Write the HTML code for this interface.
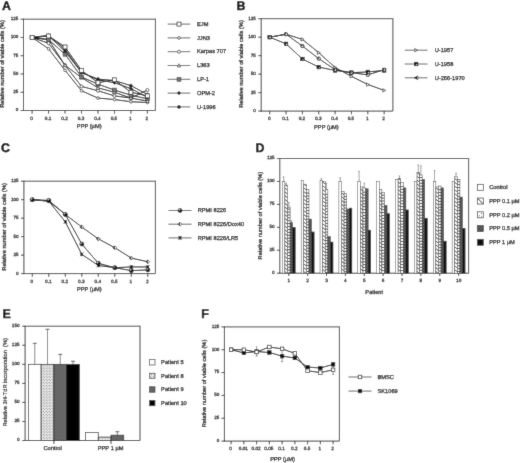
<!DOCTYPE html>
<html><head><meta charset="utf-8"><title>Figure</title>
<style>html,body{margin:0;padding:0;background:#fff;width:520px;height:463px;overflow:hidden}svg{display:block;text-rendering:geometricPrecision;will-change:transform}#w{width:520px;height:463px}</style>
</head><body><div id="w">
<svg width="520" height="463" viewBox="0 0 520 463" font-family='"Liberation Sans", sans-serif'><defs><filter id="bl" x="0" y="0" width="520" height="463" filterUnits="userSpaceOnUse"><feConvolveMatrix order="3" kernelMatrix="0.0100 0.0800 0.0100 0.0800 0.6400 0.0800 0.0100 0.0800 0.0100" divisor="1" edgeMode="duplicate"/></filter>
<pattern id="hatch" patternUnits="userSpaceOnUse" width="2.6" height="3.4"><rect width="2.6" height="3.4" fill="#fff"/><path d="M0,0.4 L2.6,3.0" stroke="#222" stroke-width="0.75"/></pattern>
<pattern id="dots" patternUnits="userSpaceOnUse" width="2.6" height="2.6"><rect width="2.6" height="2.6" fill="#fff"/><rect x="0.3" y="0.3" width="1" height="1" fill="#666"/></pattern>
<pattern id="dense" patternUnits="userSpaceOnUse" width="1.6" height="1.6"><rect width="1.6" height="1.6" fill="#8a8a8a"/><rect width="0.8" height="0.8" fill="#222"/><rect x="0.8" y="0.8" width="0.8" height="0.8" fill="#222"/></pattern>
<pattern id="edots" patternUnits="userSpaceOnUse" x="0.3" y="0.2" width="2.9" height="2.9"><rect width="2.9" height="2.9" fill="#fff"/><circle cx="0.72" cy="0.72" r="0.5" fill="#000"/><circle cx="2.17" cy="2.17" r="0.5" fill="#000"/></pattern>
</defs><g filter="url(#bl)"><rect width="520" height="463" fill="#fff"/><text font-size="12.4" text-anchor="start" font-weight="bold" fill="#0a0a0a" transform="translate(1.90 9.70) scale(1 1.001)" stroke="#0a0a0a" stroke-width="0.45">A</text>
<line x1="23.50" y1="19.20" x2="155.40" y2="19.20" stroke="#4a4a4a" stroke-width="1.0"/>
<line x1="155.40" y1="18.70" x2="155.40" y2="110.50" stroke="#4a4a4a" stroke-width="1.05"/>
<line x1="23.50" y1="18.80" x2="23.50" y2="110.90" stroke="#2a2a2a" stroke-width="0.9"/>
<line x1="23.10" y1="110.50" x2="155.40" y2="110.50" stroke="#2a2a2a" stroke-width="0.9"/>
<line x1="20.60" y1="110.50" x2="23.50" y2="110.50" stroke="#1a1a1a" stroke-width="0.85"/>
<text font-size="4.6" text-anchor="end" font-weight="normal" fill="#1a1a1a" transform="translate(18.30 111.40) scale(1 1.001)" stroke="#1a1a1a" stroke-width="0.26">0</text>
<line x1="20.60" y1="92.24" x2="23.50" y2="92.24" stroke="#1a1a1a" stroke-width="0.85"/>
<text font-size="4.6" text-anchor="end" font-weight="normal" fill="#1a1a1a" transform="translate(18.30 93.14) scale(1 1.001)" stroke="#1a1a1a" stroke-width="0.26">25</text>
<line x1="20.60" y1="73.98" x2="23.50" y2="73.98" stroke="#1a1a1a" stroke-width="0.85"/>
<text font-size="4.6" text-anchor="end" font-weight="normal" fill="#1a1a1a" transform="translate(18.30 74.88) scale(1 1.001)" stroke="#1a1a1a" stroke-width="0.26">50</text>
<line x1="20.60" y1="55.72" x2="23.50" y2="55.72" stroke="#1a1a1a" stroke-width="0.85"/>
<text font-size="4.6" text-anchor="end" font-weight="normal" fill="#1a1a1a" transform="translate(18.30 56.62) scale(1 1.001)" stroke="#1a1a1a" stroke-width="0.26">75</text>
<line x1="20.60" y1="37.46" x2="23.50" y2="37.46" stroke="#1a1a1a" stroke-width="0.85"/>
<text font-size="4.6" text-anchor="end" font-weight="normal" fill="#1a1a1a" transform="translate(18.30 38.36) scale(1 1.001)" stroke="#1a1a1a" stroke-width="0.26">100</text>
<line x1="20.60" y1="19.20" x2="23.50" y2="19.20" stroke="#1a1a1a" stroke-width="0.85"/>
<text font-size="4.6" text-anchor="end" font-weight="normal" fill="#1a1a1a" transform="translate(18.30 20.10) scale(1 1.001)" stroke="#1a1a1a" stroke-width="0.26">125</text>
<line x1="32.10" y1="110.50" x2="32.10" y2="113.70" stroke="#1a1a1a" stroke-width="0.85"/>
<text font-size="4.7" text-anchor="middle" font-weight="normal" fill="#1a1a1a" transform="translate(31.60 120.20) scale(1 1.001)" stroke="#1a1a1a" stroke-width="0.26">0</text>
<line x1="48.57" y1="110.50" x2="48.57" y2="113.70" stroke="#1a1a1a" stroke-width="0.85"/>
<text font-size="4.7" text-anchor="middle" font-weight="normal" fill="#1a1a1a" transform="translate(48.07 120.20) scale(1 1.001)" stroke="#1a1a1a" stroke-width="0.26">0.1</text>
<line x1="65.04" y1="110.50" x2="65.04" y2="113.70" stroke="#1a1a1a" stroke-width="0.85"/>
<text font-size="4.7" text-anchor="middle" font-weight="normal" fill="#1a1a1a" transform="translate(64.54 120.20) scale(1 1.001)" stroke="#1a1a1a" stroke-width="0.26">0.2</text>
<line x1="81.51" y1="110.50" x2="81.51" y2="113.70" stroke="#1a1a1a" stroke-width="0.85"/>
<text font-size="4.7" text-anchor="middle" font-weight="normal" fill="#1a1a1a" transform="translate(81.01 120.20) scale(1 1.001)" stroke="#1a1a1a" stroke-width="0.26">0.3</text>
<line x1="97.98" y1="110.50" x2="97.98" y2="113.70" stroke="#1a1a1a" stroke-width="0.85"/>
<text font-size="4.7" text-anchor="middle" font-weight="normal" fill="#1a1a1a" transform="translate(97.48 120.20) scale(1 1.001)" stroke="#1a1a1a" stroke-width="0.26">0.4</text>
<line x1="114.45" y1="110.50" x2="114.45" y2="113.70" stroke="#1a1a1a" stroke-width="0.85"/>
<text font-size="4.7" text-anchor="middle" font-weight="normal" fill="#1a1a1a" transform="translate(113.95 120.20) scale(1 1.001)" stroke="#1a1a1a" stroke-width="0.26">0.5</text>
<line x1="130.92" y1="110.50" x2="130.92" y2="113.70" stroke="#1a1a1a" stroke-width="0.85"/>
<text font-size="4.7" text-anchor="middle" font-weight="normal" fill="#1a1a1a" transform="translate(130.42 120.20) scale(1 1.001)" stroke="#1a1a1a" stroke-width="0.26">1</text>
<line x1="147.39" y1="110.50" x2="147.39" y2="113.70" stroke="#1a1a1a" stroke-width="0.85"/>
<text font-size="4.7" text-anchor="middle" font-weight="normal" fill="#1a1a1a" transform="translate(146.89 120.20) scale(1 1.001)" stroke="#1a1a1a" stroke-width="0.26">2</text>
<text font-size="5.7" text-anchor="middle" font-weight="normal" fill="#1a1a1a" transform="translate(89.20 127.80) scale(1 1.001)" stroke="#1a1a1a" stroke-width="0.26">PPP (µM)</text>
<text font-size="5.7" text-anchor="middle" font-weight="normal" fill="#1a1a1a" transform="translate(4.40 64.00) rotate(-90) scale(1 1.001)" stroke="#1a1a1a" stroke-width="0.26">Relative number of viable cells (%)</text>
<polyline points="32.10,37.46 48.57,36.00 65.04,46.96 81.51,70.33 97.98,82.74 114.45,79.82 130.92,92.24 147.39,95.89" fill="none" stroke="#0a0a0a" stroke-width="0.95" stroke-linejoin="round"/>
<polyline points="32.10,37.46 48.57,48.78 65.04,70.33 81.51,90.78 97.98,98.08 114.45,99.54 130.92,101.74 147.39,102.47" fill="none" stroke="#0a0a0a" stroke-width="0.95" stroke-linejoin="round"/>
<polyline points="32.10,37.46 48.57,43.30 65.04,65.22 81.51,86.40 97.98,90.78 114.45,95.89 130.92,98.08 147.39,90.05" fill="none" stroke="#0a0a0a" stroke-width="0.95" stroke-linejoin="round"/>
<polyline points="32.10,37.46 48.57,39.65 65.04,65.22 81.51,77.63 97.98,87.86 114.45,92.24 130.92,98.08 147.39,101.00" fill="none" stroke="#0a0a0a" stroke-width="0.95" stroke-linejoin="round"/>
<polyline points="32.10,37.46 48.57,39.65 65.04,54.26 81.51,76.90 97.98,84.21 114.45,90.05 130.92,95.16 147.39,98.81" fill="none" stroke="#0a0a0a" stroke-width="0.95" stroke-linejoin="round"/>
<polyline points="32.10,37.46 48.57,36.00 65.04,51.34 81.51,72.52 97.98,79.82 114.45,82.74 130.92,88.59 147.39,97.35" fill="none" stroke="#0a0a0a" stroke-width="0.95" stroke-linejoin="round"/>
<polyline points="32.10,37.46 48.57,35.27 65.04,49.15 81.51,72.52 97.98,79.09 114.45,80.55 130.92,85.67 147.39,94.43" fill="none" stroke="#0a0a0a" stroke-width="0.95" stroke-linejoin="round"/>
<circle cx="32.10" cy="37.46" r="1.36" fill="#fff" stroke="#222" stroke-width="0.7"/>
<circle cx="48.57" cy="48.78" r="1.36" fill="#fff" stroke="#222" stroke-width="0.7"/>
<circle cx="65.04" cy="70.33" r="1.36" fill="#fff" stroke="#222" stroke-width="0.7"/>
<circle cx="81.51" cy="90.78" r="1.36" fill="#fff" stroke="#222" stroke-width="0.7"/>
<circle cx="97.98" cy="98.08" r="1.36" fill="#fff" stroke="#222" stroke-width="0.7"/>
<circle cx="114.45" cy="99.54" r="1.36" fill="#fff" stroke="#222" stroke-width="0.7"/>
<circle cx="130.92" cy="101.74" r="1.36" fill="#fff" stroke="#222" stroke-width="0.7"/>
<circle cx="147.39" cy="102.47" r="1.36" fill="#fff" stroke="#222" stroke-width="0.7"/>
<circle cx="32.10" cy="37.46" r="1.52" fill="#fff" stroke="#222" stroke-width="0.7"/>
<circle cx="48.57" cy="43.30" r="1.52" fill="#fff" stroke="#222" stroke-width="0.7"/>
<circle cx="65.04" cy="65.22" r="1.52" fill="#fff" stroke="#222" stroke-width="0.7"/>
<circle cx="81.51" cy="86.40" r="1.52" fill="#fff" stroke="#222" stroke-width="0.7"/>
<circle cx="97.98" cy="90.78" r="1.52" fill="#fff" stroke="#222" stroke-width="0.7"/>
<circle cx="114.45" cy="95.89" r="1.52" fill="#fff" stroke="#222" stroke-width="0.7"/>
<circle cx="130.92" cy="98.08" r="1.52" fill="#fff" stroke="#222" stroke-width="0.7"/>
<circle cx="147.39" cy="90.05" r="1.52" fill="#fff" stroke="#222" stroke-width="0.7"/>
<path d="M32.10,35.73 L33.83,38.90 L30.37,38.90 Z" fill="#fff" stroke="#222" stroke-width="0.7"/>
<path d="M48.57,37.92 L50.30,41.09 L46.84,41.09 Z" fill="#fff" stroke="#222" stroke-width="0.7"/>
<path d="M65.04,63.49 L66.77,66.66 L63.31,66.66 Z" fill="#fff" stroke="#222" stroke-width="0.7"/>
<path d="M81.51,75.90 L83.24,79.07 L79.78,79.07 Z" fill="#fff" stroke="#222" stroke-width="0.7"/>
<path d="M97.98,86.13 L99.71,89.30 L96.25,89.30 Z" fill="#fff" stroke="#222" stroke-width="0.7"/>
<path d="M114.45,90.51 L116.18,93.68 L112.72,93.68 Z" fill="#fff" stroke="#222" stroke-width="0.7"/>
<path d="M130.92,96.36 L132.65,99.52 L129.19,99.52 Z" fill="#fff" stroke="#222" stroke-width="0.7"/>
<path d="M147.39,99.28 L149.12,102.44 L145.66,102.44 Z" fill="#fff" stroke="#222" stroke-width="0.7"/>
<rect x="30.18" y="35.54" width="3.84" height="3.84" fill="#777" stroke="#333" stroke-width="0.6"/>
<rect x="46.65" y="37.73" width="3.84" height="3.84" fill="#777" stroke="#333" stroke-width="0.6"/>
<rect x="63.12" y="52.34" width="3.84" height="3.84" fill="#777" stroke="#333" stroke-width="0.6"/>
<rect x="79.59" y="74.98" width="3.84" height="3.84" fill="#777" stroke="#333" stroke-width="0.6"/>
<rect x="96.06" y="82.29" width="3.84" height="3.84" fill="#777" stroke="#333" stroke-width="0.6"/>
<rect x="112.53" y="88.13" width="3.84" height="3.84" fill="#777" stroke="#333" stroke-width="0.6"/>
<rect x="129.00" y="93.24" width="3.84" height="3.84" fill="#777" stroke="#333" stroke-width="0.6"/>
<rect x="145.47" y="96.89" width="3.84" height="3.84" fill="#777" stroke="#333" stroke-width="0.6"/>
<path d="M32.10,35.73 L33.83,37.46 L32.10,39.19 L30.37,37.46 Z" fill="#222" stroke="#222" stroke-width="0.6"/>
<path d="M48.57,34.27 L50.30,36.00 L48.57,37.73 L46.84,36.00 Z" fill="#222" stroke="#222" stroke-width="0.6"/>
<path d="M65.04,49.61 L66.77,51.34 L65.04,53.07 L63.31,51.34 Z" fill="#222" stroke="#222" stroke-width="0.6"/>
<path d="M81.51,70.79 L83.24,72.52 L81.51,74.25 L79.78,72.52 Z" fill="#222" stroke="#222" stroke-width="0.6"/>
<path d="M97.98,78.10 L99.71,79.82 L97.98,81.55 L96.25,79.82 Z" fill="#222" stroke="#222" stroke-width="0.6"/>
<path d="M114.45,81.02 L116.18,82.74 L114.45,84.47 L112.72,82.74 Z" fill="#222" stroke="#222" stroke-width="0.6"/>
<path d="M130.92,86.86 L132.65,88.59 L130.92,90.32 L129.19,88.59 Z" fill="#222" stroke="#222" stroke-width="0.6"/>
<path d="M147.39,95.62 L149.12,97.35 L147.39,99.08 L145.66,97.35 Z" fill="#222" stroke="#222" stroke-width="0.6"/>
<circle cx="32.10" cy="37.46" r="1.52" fill="#222" stroke="#222" stroke-width="0.6"/>
<circle cx="48.57" cy="35.27" r="1.52" fill="#222" stroke="#222" stroke-width="0.6"/>
<circle cx="65.04" cy="49.15" r="1.52" fill="#222" stroke="#222" stroke-width="0.6"/>
<circle cx="81.51" cy="72.52" r="1.52" fill="#222" stroke="#222" stroke-width="0.6"/>
<circle cx="97.98" cy="79.09" r="1.52" fill="#222" stroke="#222" stroke-width="0.6"/>
<circle cx="114.45" cy="80.55" r="1.52" fill="#222" stroke="#222" stroke-width="0.6"/>
<circle cx="130.92" cy="85.67" r="1.52" fill="#222" stroke="#222" stroke-width="0.6"/>
<circle cx="147.39" cy="94.43" r="1.52" fill="#222" stroke="#222" stroke-width="0.6"/>
<rect x="30.10" y="35.46" width="4.00" height="4.00" fill="#fff" stroke="#222" stroke-width="0.7"/>
<rect x="46.57" y="34.00" width="4.00" height="4.00" fill="#fff" stroke="#222" stroke-width="0.7"/>
<rect x="63.04" y="44.96" width="4.00" height="4.00" fill="#fff" stroke="#222" stroke-width="0.7"/>
<rect x="79.51" y="68.33" width="4.00" height="4.00" fill="#fff" stroke="#222" stroke-width="0.7"/>
<rect x="95.98" y="80.74" width="4.00" height="4.00" fill="#fff" stroke="#222" stroke-width="0.7"/>
<rect x="112.45" y="77.82" width="4.00" height="4.00" fill="#fff" stroke="#222" stroke-width="0.7"/>
<rect x="128.92" y="90.24" width="4.00" height="4.00" fill="#fff" stroke="#222" stroke-width="0.7"/>
<rect x="145.39" y="93.89" width="4.00" height="4.00" fill="#fff" stroke="#222" stroke-width="0.7"/>
<line x1="167.70" y1="24.10" x2="190.30" y2="24.10" stroke="#444" stroke-width="0.8"/>
<rect x="177.00" y="22.10" width="4.00" height="4.00" fill="#fff" stroke="#222" stroke-width="0.7"/>
<text font-size="5.7" text-anchor="start" font-weight="normal" fill="#1a1a1a" transform="translate(197.00 25.80) scale(1 1.001)" stroke="#1a1a1a" stroke-width="0.26">EJM</text>
<line x1="167.70" y1="37.90" x2="190.30" y2="37.90" stroke="#444" stroke-width="0.8"/>
<circle cx="179.00" cy="37.90" r="1.36" fill="#fff" stroke="#222" stroke-width="0.7"/>
<text font-size="5.7" text-anchor="start" font-weight="normal" fill="#1a1a1a" transform="translate(197.00 39.60) scale(1 1.001)" stroke="#1a1a1a" stroke-width="0.26">JJN3</text>
<line x1="167.70" y1="51.70" x2="190.30" y2="51.70" stroke="#444" stroke-width="0.8"/>
<circle cx="179.00" cy="51.70" r="1.52" fill="#fff" stroke="#222" stroke-width="0.7"/>
<text font-size="5.7" text-anchor="start" font-weight="normal" fill="#1a1a1a" transform="translate(197.00 53.40) scale(1 1.001)" stroke="#1a1a1a" stroke-width="0.26">Karpas 707</text>
<line x1="167.70" y1="65.50" x2="190.30" y2="65.50" stroke="#444" stroke-width="0.8"/>
<path d="M179.00,63.77 L180.73,66.94 L177.27,66.94 Z" fill="#fff" stroke="#222" stroke-width="0.7"/>
<text font-size="5.7" text-anchor="start" font-weight="normal" fill="#1a1a1a" transform="translate(197.00 67.20) scale(1 1.001)" stroke="#1a1a1a" stroke-width="0.26">L363</text>
<line x1="167.70" y1="79.30" x2="190.30" y2="79.30" stroke="#444" stroke-width="0.8"/>
<rect x="177.08" y="77.38" width="3.84" height="3.84" fill="#777" stroke="#333" stroke-width="0.6"/>
<text font-size="5.7" text-anchor="start" font-weight="normal" fill="#1a1a1a" transform="translate(197.00 81.00) scale(1 1.001)" stroke="#1a1a1a" stroke-width="0.26">LP-1</text>
<line x1="167.70" y1="93.10" x2="190.30" y2="93.10" stroke="#444" stroke-width="0.8"/>
<path d="M179.00,91.37 L180.73,93.10 L179.00,94.83 L177.27,93.10 Z" fill="#222" stroke="#222" stroke-width="0.6"/>
<text font-size="5.7" text-anchor="start" font-weight="normal" fill="#1a1a1a" transform="translate(197.00 94.80) scale(1 1.001)" stroke="#1a1a1a" stroke-width="0.26">OPM-2</text>
<line x1="167.70" y1="106.90" x2="190.30" y2="106.90" stroke="#444" stroke-width="0.8"/>
<circle cx="179.00" cy="106.90" r="1.52" fill="#222" stroke="#222" stroke-width="0.6"/>
<text font-size="5.7" text-anchor="start" font-weight="normal" fill="#1a1a1a" transform="translate(197.00 108.60) scale(1 1.001)" stroke="#1a1a1a" stroke-width="0.26">U-1996</text>
<text font-size="12.4" text-anchor="start" font-weight="bold" fill="#0a0a0a" transform="translate(236.50 10.10) scale(1 1.001)" stroke="#0a0a0a" stroke-width="0.45">B</text>
<line x1="261.20" y1="18.70" x2="392.90" y2="18.70" stroke="#4a4a4a" stroke-width="1.0"/>
<line x1="392.90" y1="18.20" x2="392.90" y2="111.10" stroke="#4a4a4a" stroke-width="1.05"/>
<line x1="261.20" y1="18.30" x2="261.20" y2="111.50" stroke="#2a2a2a" stroke-width="0.9"/>
<line x1="260.80" y1="111.10" x2="392.90" y2="111.10" stroke="#2a2a2a" stroke-width="0.9"/>
<line x1="258.30" y1="111.10" x2="261.20" y2="111.10" stroke="#1a1a1a" stroke-width="0.85"/>
<text font-size="4.6" text-anchor="end" font-weight="normal" fill="#1a1a1a" transform="translate(255.80 112.00) scale(1 1.001)" stroke="#1a1a1a" stroke-width="0.26">0</text>
<line x1="258.30" y1="92.62" x2="261.20" y2="92.62" stroke="#1a1a1a" stroke-width="0.85"/>
<text font-size="4.6" text-anchor="end" font-weight="normal" fill="#1a1a1a" transform="translate(255.80 93.52) scale(1 1.001)" stroke="#1a1a1a" stroke-width="0.26">25</text>
<line x1="258.30" y1="74.14" x2="261.20" y2="74.14" stroke="#1a1a1a" stroke-width="0.85"/>
<text font-size="4.6" text-anchor="end" font-weight="normal" fill="#1a1a1a" transform="translate(255.80 75.04) scale(1 1.001)" stroke="#1a1a1a" stroke-width="0.26">50</text>
<line x1="258.30" y1="55.66" x2="261.20" y2="55.66" stroke="#1a1a1a" stroke-width="0.85"/>
<text font-size="4.6" text-anchor="end" font-weight="normal" fill="#1a1a1a" transform="translate(255.80 56.56) scale(1 1.001)" stroke="#1a1a1a" stroke-width="0.26">75</text>
<line x1="258.30" y1="37.18" x2="261.20" y2="37.18" stroke="#1a1a1a" stroke-width="0.85"/>
<text font-size="4.6" text-anchor="end" font-weight="normal" fill="#1a1a1a" transform="translate(255.80 38.08) scale(1 1.001)" stroke="#1a1a1a" stroke-width="0.26">100</text>
<line x1="258.30" y1="18.70" x2="261.20" y2="18.70" stroke="#1a1a1a" stroke-width="0.85"/>
<text font-size="4.6" text-anchor="end" font-weight="normal" fill="#1a1a1a" transform="translate(255.80 19.60) scale(1 1.001)" stroke="#1a1a1a" stroke-width="0.26">125</text>
<line x1="269.70" y1="111.10" x2="269.70" y2="114.30" stroke="#1a1a1a" stroke-width="0.85"/>
<text font-size="4.7" text-anchor="middle" font-weight="normal" fill="#1a1a1a" transform="translate(269.20 119.60) scale(1 1.001)" stroke="#1a1a1a" stroke-width="0.26">0</text>
<line x1="286.05" y1="111.10" x2="286.05" y2="114.30" stroke="#1a1a1a" stroke-width="0.85"/>
<text font-size="4.7" text-anchor="middle" font-weight="normal" fill="#1a1a1a" transform="translate(285.55 119.60) scale(1 1.001)" stroke="#1a1a1a" stroke-width="0.26">0.1</text>
<line x1="302.40" y1="111.10" x2="302.40" y2="114.30" stroke="#1a1a1a" stroke-width="0.85"/>
<text font-size="4.7" text-anchor="middle" font-weight="normal" fill="#1a1a1a" transform="translate(301.90 119.60) scale(1 1.001)" stroke="#1a1a1a" stroke-width="0.26">0.2</text>
<line x1="318.75" y1="111.10" x2="318.75" y2="114.30" stroke="#1a1a1a" stroke-width="0.85"/>
<text font-size="4.7" text-anchor="middle" font-weight="normal" fill="#1a1a1a" transform="translate(318.25 119.60) scale(1 1.001)" stroke="#1a1a1a" stroke-width="0.26">0.3</text>
<line x1="335.10" y1="111.10" x2="335.10" y2="114.30" stroke="#1a1a1a" stroke-width="0.85"/>
<text font-size="4.7" text-anchor="middle" font-weight="normal" fill="#1a1a1a" transform="translate(334.60 119.60) scale(1 1.001)" stroke="#1a1a1a" stroke-width="0.26">0.4</text>
<line x1="351.45" y1="111.10" x2="351.45" y2="114.30" stroke="#1a1a1a" stroke-width="0.85"/>
<text font-size="4.7" text-anchor="middle" font-weight="normal" fill="#1a1a1a" transform="translate(350.95 119.60) scale(1 1.001)" stroke="#1a1a1a" stroke-width="0.26">0.5</text>
<line x1="367.80" y1="111.10" x2="367.80" y2="114.30" stroke="#1a1a1a" stroke-width="0.85"/>
<text font-size="4.7" text-anchor="middle" font-weight="normal" fill="#1a1a1a" transform="translate(367.30 119.60) scale(1 1.001)" stroke="#1a1a1a" stroke-width="0.26">1</text>
<line x1="384.15" y1="111.10" x2="384.15" y2="114.30" stroke="#1a1a1a" stroke-width="0.85"/>
<text font-size="4.7" text-anchor="middle" font-weight="normal" fill="#1a1a1a" transform="translate(383.65 119.60) scale(1 1.001)" stroke="#1a1a1a" stroke-width="0.26">2</text>
<text font-size="5.7" text-anchor="middle" font-weight="normal" fill="#1a1a1a" transform="translate(326.40 128.60) scale(1 1.001)" stroke="#1a1a1a" stroke-width="0.26">PPP (µM)</text>
<text font-size="5.7" text-anchor="middle" font-weight="normal" fill="#1a1a1a" transform="translate(243.00 64.00) rotate(-90) scale(1 1.001)" stroke="#1a1a1a" stroke-width="0.26">Relative number of viable cells (%)</text>
<polyline points="269.70,37.18 286.05,34.22 302.40,39.40 318.75,52.70 335.10,67.49 351.45,76.36 367.80,84.49 384.15,90.40" fill="none" stroke="#0a0a0a" stroke-width="0.95" stroke-linejoin="round"/>
<polyline points="269.70,37.18 286.05,43.83 302.40,58.99 318.75,67.12 335.10,70.44 351.45,72.66 367.80,71.92 384.15,70.44" fill="none" stroke="#0a0a0a" stroke-width="0.95" stroke-linejoin="round"/>
<polyline points="269.70,37.18 286.05,34.22 302.40,46.05 318.75,58.62 335.10,69.70 351.45,72.66 367.80,74.88 384.15,69.70" fill="none" stroke="#0a0a0a" stroke-width="0.95" stroke-linejoin="round"/>
<path d="M271.33,37.18 L268.34,35.55 L268.34,38.81 Z" fill="#fff" stroke="#222" stroke-width="0.7"/>
<path d="M287.68,34.22 L284.69,32.59 L284.69,35.86 Z" fill="#fff" stroke="#222" stroke-width="0.7"/>
<path d="M304.03,39.40 L301.04,37.77 L301.04,41.03 Z" fill="#fff" stroke="#222" stroke-width="0.7"/>
<path d="M320.38,52.70 L317.39,51.07 L317.39,54.34 Z" fill="#fff" stroke="#222" stroke-width="0.7"/>
<path d="M336.73,67.49 L333.74,65.86 L333.74,69.12 Z" fill="#fff" stroke="#222" stroke-width="0.7"/>
<path d="M353.08,76.36 L350.09,74.73 L350.09,77.99 Z" fill="#fff" stroke="#222" stroke-width="0.7"/>
<path d="M369.43,84.49 L366.44,82.86 L366.44,86.12 Z" fill="#fff" stroke="#222" stroke-width="0.7"/>
<path d="M385.78,90.40 L382.79,88.77 L382.79,92.03 Z" fill="#fff" stroke="#222" stroke-width="0.7"/>
<rect x="267.91" y="35.39" width="3.58" height="3.58" fill="#111" stroke="#111" stroke-width="0.5"/>
<circle cx="270.33" cy="37.81" r="0.59" fill="#fff"/>
<rect x="284.26" y="42.04" width="3.58" height="3.58" fill="#111" stroke="#111" stroke-width="0.5"/>
<circle cx="286.68" cy="44.46" r="0.59" fill="#fff"/>
<rect x="300.61" y="57.19" width="3.58" height="3.58" fill="#111" stroke="#111" stroke-width="0.5"/>
<circle cx="303.03" cy="59.61" r="0.59" fill="#fff"/>
<rect x="316.96" y="65.33" width="3.58" height="3.58" fill="#111" stroke="#111" stroke-width="0.5"/>
<circle cx="319.38" cy="67.74" r="0.59" fill="#fff"/>
<rect x="333.31" y="68.65" width="3.58" height="3.58" fill="#111" stroke="#111" stroke-width="0.5"/>
<circle cx="335.73" cy="71.07" r="0.59" fill="#fff"/>
<rect x="349.66" y="70.87" width="3.58" height="3.58" fill="#111" stroke="#111" stroke-width="0.5"/>
<circle cx="352.08" cy="73.29" r="0.59" fill="#fff"/>
<rect x="366.01" y="70.13" width="3.58" height="3.58" fill="#111" stroke="#111" stroke-width="0.5"/>
<circle cx="368.43" cy="72.55" r="0.59" fill="#fff"/>
<rect x="382.36" y="68.65" width="3.58" height="3.58" fill="#111" stroke="#111" stroke-width="0.5"/>
<circle cx="384.78" cy="71.07" r="0.59" fill="#fff"/>
<circle cx="269.70" cy="37.18" r="1.60" fill="#fff" stroke="#111" stroke-width="1.0"/>
<circle cx="269.22" cy="36.70" r="0.72" fill="#111"/>
<circle cx="286.05" cy="34.22" r="1.60" fill="#fff" stroke="#111" stroke-width="1.0"/>
<circle cx="285.57" cy="33.74" r="0.72" fill="#111"/>
<circle cx="302.40" cy="46.05" r="1.60" fill="#fff" stroke="#111" stroke-width="1.0"/>
<circle cx="301.92" cy="45.57" r="0.72" fill="#111"/>
<circle cx="318.75" cy="58.62" r="1.60" fill="#fff" stroke="#111" stroke-width="1.0"/>
<circle cx="318.27" cy="58.14" r="0.72" fill="#111"/>
<circle cx="335.10" cy="69.70" r="1.60" fill="#fff" stroke="#111" stroke-width="1.0"/>
<circle cx="334.62" cy="69.22" r="0.72" fill="#111"/>
<circle cx="351.45" cy="72.66" r="1.60" fill="#fff" stroke="#111" stroke-width="1.0"/>
<circle cx="350.97" cy="72.18" r="0.72" fill="#111"/>
<circle cx="367.80" cy="74.88" r="1.60" fill="#fff" stroke="#111" stroke-width="1.0"/>
<circle cx="367.32" cy="74.40" r="0.72" fill="#111"/>
<circle cx="384.15" cy="69.70" r="1.60" fill="#fff" stroke="#111" stroke-width="1.0"/>
<circle cx="383.67" cy="69.22" r="0.72" fill="#111"/>
<line x1="404.80" y1="50.20" x2="427.50" y2="50.20" stroke="#444" stroke-width="0.8"/>
<path d="M417.78,50.20 L414.79,48.57 L414.79,51.83 Z" fill="#fff" stroke="#222" stroke-width="0.7"/>
<text font-size="5.7" text-anchor="start" font-weight="normal" fill="#1a1a1a" transform="translate(434.70 51.90) scale(1 1.001)" stroke="#1a1a1a" stroke-width="0.26">U-1957</text>
<line x1="404.80" y1="64.00" x2="427.50" y2="64.00" stroke="#444" stroke-width="0.8"/>
<rect x="414.31" y="62.16" width="3.68" height="3.68" fill="#111" stroke="#111" stroke-width="0.5"/>
<circle cx="416.79" cy="64.64" r="0.61" fill="#fff"/>
<text font-size="5.7" text-anchor="start" font-weight="normal" fill="#1a1a1a" transform="translate(434.70 65.70) scale(1 1.001)" stroke="#1a1a1a" stroke-width="0.26">U-1958</text>
<line x1="404.80" y1="77.80" x2="427.50" y2="77.80" stroke="#444" stroke-width="0.8"/>
<path d="M414.13,77.80 L417.83,75.95 L417.83,79.65 Z" fill="#fff" stroke="#111" stroke-width="0.6"/>
<path d="M414.13,77.80 L417.07,76.29 L417.07,79.31 Z" fill="#111"/>
<text font-size="5.7" text-anchor="start" font-weight="normal" fill="#1a1a1a" transform="translate(434.70 79.50) scale(1 1.001)" stroke="#1a1a1a" stroke-width="0.26">U-266-1970</text>
<text font-size="12.4" text-anchor="start" font-weight="bold" fill="#0a0a0a" transform="translate(1.05 151.80) scale(1 1.001)" stroke="#0a0a0a" stroke-width="0.45">C</text>
<line x1="23.90" y1="181.20" x2="155.40" y2="181.20" stroke="#4a4a4a" stroke-width="1.0"/>
<line x1="155.40" y1="180.70" x2="155.40" y2="273.60" stroke="#4a4a4a" stroke-width="1.05"/>
<line x1="23.90" y1="180.80" x2="23.90" y2="274.00" stroke="#2a2a2a" stroke-width="0.9"/>
<line x1="23.50" y1="273.60" x2="155.40" y2="273.60" stroke="#2a2a2a" stroke-width="0.9"/>
<line x1="21.00" y1="273.60" x2="23.90" y2="273.60" stroke="#1a1a1a" stroke-width="0.85"/>
<text font-size="4.6" text-anchor="end" font-weight="normal" fill="#1a1a1a" transform="translate(18.60 274.50) scale(1 1.001)" stroke="#1a1a1a" stroke-width="0.26">0</text>
<line x1="21.00" y1="255.12" x2="23.90" y2="255.12" stroke="#1a1a1a" stroke-width="0.85"/>
<text font-size="4.6" text-anchor="end" font-weight="normal" fill="#1a1a1a" transform="translate(18.60 256.02) scale(1 1.001)" stroke="#1a1a1a" stroke-width="0.26">25</text>
<line x1="21.00" y1="236.64" x2="23.90" y2="236.64" stroke="#1a1a1a" stroke-width="0.85"/>
<text font-size="4.6" text-anchor="end" font-weight="normal" fill="#1a1a1a" transform="translate(18.60 237.54) scale(1 1.001)" stroke="#1a1a1a" stroke-width="0.26">50</text>
<line x1="21.00" y1="218.16" x2="23.90" y2="218.16" stroke="#1a1a1a" stroke-width="0.85"/>
<text font-size="4.6" text-anchor="end" font-weight="normal" fill="#1a1a1a" transform="translate(18.60 219.06) scale(1 1.001)" stroke="#1a1a1a" stroke-width="0.26">75</text>
<line x1="21.00" y1="199.68" x2="23.90" y2="199.68" stroke="#1a1a1a" stroke-width="0.85"/>
<text font-size="4.6" text-anchor="end" font-weight="normal" fill="#1a1a1a" transform="translate(18.60 200.58) scale(1 1.001)" stroke="#1a1a1a" stroke-width="0.26">100</text>
<line x1="21.00" y1="181.20" x2="23.90" y2="181.20" stroke="#1a1a1a" stroke-width="0.85"/>
<text font-size="4.6" text-anchor="end" font-weight="normal" fill="#1a1a1a" transform="translate(18.60 182.10) scale(1 1.001)" stroke="#1a1a1a" stroke-width="0.26">125</text>
<line x1="32.30" y1="273.60" x2="32.30" y2="276.80" stroke="#1a1a1a" stroke-width="0.85"/>
<text font-size="4.7" text-anchor="middle" font-weight="normal" fill="#1a1a1a" transform="translate(31.80 282.80) scale(1 1.001)" stroke="#1a1a1a" stroke-width="0.26">0</text>
<line x1="48.80" y1="273.60" x2="48.80" y2="276.80" stroke="#1a1a1a" stroke-width="0.85"/>
<text font-size="4.7" text-anchor="middle" font-weight="normal" fill="#1a1a1a" transform="translate(48.30 282.80) scale(1 1.001)" stroke="#1a1a1a" stroke-width="0.26">0.1</text>
<line x1="65.30" y1="273.60" x2="65.30" y2="276.80" stroke="#1a1a1a" stroke-width="0.85"/>
<text font-size="4.7" text-anchor="middle" font-weight="normal" fill="#1a1a1a" transform="translate(64.80 282.80) scale(1 1.001)" stroke="#1a1a1a" stroke-width="0.26">0.2</text>
<line x1="81.80" y1="273.60" x2="81.80" y2="276.80" stroke="#1a1a1a" stroke-width="0.85"/>
<text font-size="4.7" text-anchor="middle" font-weight="normal" fill="#1a1a1a" transform="translate(81.30 282.80) scale(1 1.001)" stroke="#1a1a1a" stroke-width="0.26">0.3</text>
<line x1="98.30" y1="273.60" x2="98.30" y2="276.80" stroke="#1a1a1a" stroke-width="0.85"/>
<text font-size="4.7" text-anchor="middle" font-weight="normal" fill="#1a1a1a" transform="translate(97.80 282.80) scale(1 1.001)" stroke="#1a1a1a" stroke-width="0.26">0.4</text>
<line x1="114.80" y1="273.60" x2="114.80" y2="276.80" stroke="#1a1a1a" stroke-width="0.85"/>
<text font-size="4.7" text-anchor="middle" font-weight="normal" fill="#1a1a1a" transform="translate(114.30 282.80) scale(1 1.001)" stroke="#1a1a1a" stroke-width="0.26">0.5</text>
<line x1="131.30" y1="273.60" x2="131.30" y2="276.80" stroke="#1a1a1a" stroke-width="0.85"/>
<text font-size="4.7" text-anchor="middle" font-weight="normal" fill="#1a1a1a" transform="translate(130.80 282.80) scale(1 1.001)" stroke="#1a1a1a" stroke-width="0.26">1</text>
<line x1="147.80" y1="273.60" x2="147.80" y2="276.80" stroke="#1a1a1a" stroke-width="0.85"/>
<text font-size="4.7" text-anchor="middle" font-weight="normal" fill="#1a1a1a" transform="translate(147.30 282.80) scale(1 1.001)" stroke="#1a1a1a" stroke-width="0.26">2</text>
<text font-size="5.7" text-anchor="middle" font-weight="normal" fill="#1a1a1a" transform="translate(89.30 291.10) scale(1 1.001)" stroke="#1a1a1a" stroke-width="0.26">PPP (µM)</text>
<text font-size="5.7" text-anchor="middle" font-weight="normal" fill="#1a1a1a" transform="translate(6.30 226.90) rotate(-90) scale(1 1.001)" stroke="#1a1a1a" stroke-width="0.26">Relative number of viable cells (%)</text>
<polyline points="32.30,199.68 48.80,200.42 65.30,214.46 81.80,244.03 98.30,263.25 114.80,267.69 131.30,270.64 147.80,269.90" fill="none" stroke="#0a0a0a" stroke-width="0.95" stroke-linejoin="round"/>
<polyline points="32.30,199.68 48.80,201.16 65.30,214.46 81.80,227.03 98.30,238.86 114.80,247.73 131.30,258.08 147.80,261.77" fill="none" stroke="#0a0a0a" stroke-width="0.95" stroke-linejoin="round"/>
<polyline points="32.30,199.68 48.80,201.16 65.30,221.86 81.80,254.38 98.30,265.47 114.80,267.69 131.30,266.95 147.80,266.95" fill="none" stroke="#0a0a0a" stroke-width="0.95" stroke-linejoin="round"/>
<path d="M32.30,197.76 L34.22,199.68 L32.30,201.60 L30.38,199.68 Z" fill="#fff" stroke="#222" stroke-width="0.7"/>
<path d="M32.30,197.76 L30.38,199.68 L32.30,201.60 Z" fill="#222"/>
<path d="M48.80,199.24 L50.72,201.16 L48.80,203.08 L46.88,201.16 Z" fill="#fff" stroke="#222" stroke-width="0.7"/>
<path d="M48.80,199.24 L46.88,201.16 L48.80,203.08 Z" fill="#222"/>
<path d="M65.30,212.54 L67.22,214.46 L65.30,216.38 L63.38,214.46 Z" fill="#fff" stroke="#222" stroke-width="0.7"/>
<path d="M65.30,212.54 L63.38,214.46 L65.30,216.38 Z" fill="#222"/>
<path d="M81.80,225.11 L83.72,227.03 L81.80,228.95 L79.88,227.03 Z" fill="#fff" stroke="#222" stroke-width="0.7"/>
<path d="M81.80,225.11 L79.88,227.03 L81.80,228.95 Z" fill="#222"/>
<path d="M98.30,236.94 L100.22,238.86 L98.30,240.78 L96.38,238.86 Z" fill="#fff" stroke="#222" stroke-width="0.7"/>
<path d="M98.30,236.94 L96.38,238.86 L98.30,240.78 Z" fill="#222"/>
<path d="M114.80,245.81 L116.72,247.73 L114.80,249.65 L112.88,247.73 Z" fill="#fff" stroke="#222" stroke-width="0.7"/>
<path d="M114.80,245.81 L112.88,247.73 L114.80,249.65 Z" fill="#222"/>
<path d="M131.30,256.16 L133.22,258.08 L131.30,260.00 L129.38,258.08 Z" fill="#fff" stroke="#222" stroke-width="0.7"/>
<path d="M131.30,256.16 L129.38,258.08 L131.30,260.00 Z" fill="#222"/>
<path d="M147.80,259.85 L149.72,261.77 L147.80,263.69 L145.88,261.77 Z" fill="#fff" stroke="#222" stroke-width="0.7"/>
<path d="M147.80,259.85 L145.88,261.77 L147.80,263.69 Z" fill="#222"/>
<rect x="31.07" y="198.45" width="2.46" height="2.46" fill="#111"/>
<path d="M30.54,197.92 L34.06,201.44 M34.06,197.92 L30.54,201.44 M32.30,197.74 L32.30,201.62" stroke="#111" stroke-width="0.7"/>
<rect x="47.57" y="199.93" width="2.46" height="2.46" fill="#111"/>
<path d="M47.04,199.40 L50.56,202.92 M50.56,199.40 L47.04,202.92 M48.80,199.22 L48.80,203.09" stroke="#111" stroke-width="0.7"/>
<rect x="64.07" y="220.62" width="2.46" height="2.46" fill="#111"/>
<path d="M63.54,220.10 L67.06,223.62 M67.06,220.10 L63.54,223.62 M65.30,219.92 L65.30,223.79" stroke="#111" stroke-width="0.7"/>
<rect x="80.57" y="253.15" width="2.46" height="2.46" fill="#111"/>
<path d="M80.04,252.62 L83.56,256.14 M83.56,252.62 L80.04,256.14 M81.80,252.44 L81.80,256.32" stroke="#111" stroke-width="0.7"/>
<rect x="97.07" y="264.24" width="2.46" height="2.46" fill="#111"/>
<path d="M96.54,263.71 L100.06,267.23 M100.06,263.71 L96.54,267.23 M98.30,263.53 L98.30,267.40" stroke="#111" stroke-width="0.7"/>
<rect x="113.57" y="266.45" width="2.46" height="2.46" fill="#111"/>
<path d="M113.04,265.93 L116.56,269.45 M116.56,265.93 L113.04,269.45 M114.80,265.75 L114.80,269.62" stroke="#111" stroke-width="0.7"/>
<rect x="130.07" y="265.72" width="2.46" height="2.46" fill="#111"/>
<path d="M129.54,265.19 L133.06,268.71 M133.06,265.19 L129.54,268.71 M131.30,265.01 L131.30,268.88" stroke="#111" stroke-width="0.7"/>
<rect x="146.57" y="265.72" width="2.46" height="2.46" fill="#111"/>
<path d="M146.04,265.19 L149.56,268.71 M149.56,265.19 L146.04,268.71 M147.80,265.01 L147.80,268.88" stroke="#111" stroke-width="0.7"/>
<circle cx="32.30" cy="199.68" r="2.08" fill="#111" stroke="#111" stroke-width="0.5"/>
<path d="M30.74,199.58 A1.66,1.66 0 0 1 32.40,198.12 L32.09,199.47 Z" fill="#fff"/>
<circle cx="48.80" cy="200.42" r="2.08" fill="#111" stroke="#111" stroke-width="0.5"/>
<path d="M47.24,200.32 A1.66,1.66 0 0 1 48.90,198.86 L48.59,200.21 Z" fill="#fff"/>
<circle cx="65.30" cy="214.46" r="2.08" fill="#111" stroke="#111" stroke-width="0.5"/>
<path d="M63.74,214.36 A1.66,1.66 0 0 1 65.40,212.90 L65.09,214.26 Z" fill="#fff"/>
<circle cx="81.80" cy="244.03" r="2.08" fill="#111" stroke="#111" stroke-width="0.5"/>
<path d="M80.24,243.93 A1.66,1.66 0 0 1 81.90,242.47 L81.59,243.82 Z" fill="#fff"/>
<circle cx="98.30" cy="263.25" r="2.08" fill="#111" stroke="#111" stroke-width="0.5"/>
<path d="M96.74,263.15 A1.66,1.66 0 0 1 98.40,261.69 L98.09,263.04 Z" fill="#fff"/>
<circle cx="114.80" cy="267.69" r="2.08" fill="#111" stroke="#111" stroke-width="0.5"/>
<path d="M113.24,267.58 A1.66,1.66 0 0 1 114.90,266.13 L114.59,267.48 Z" fill="#fff"/>
<circle cx="131.30" cy="270.64" r="2.08" fill="#111" stroke="#111" stroke-width="0.5"/>
<path d="M129.74,270.54 A1.66,1.66 0 0 1 131.40,269.08 L131.09,270.44 Z" fill="#fff"/>
<circle cx="147.80" cy="269.90" r="2.08" fill="#111" stroke="#111" stroke-width="0.5"/>
<path d="M146.24,269.80 A1.66,1.66 0 0 1 147.90,268.34 L147.59,269.70 Z" fill="#fff"/>
<line x1="168.50" y1="210.50" x2="191.50" y2="210.50" stroke="#444" stroke-width="0.8"/>
<circle cx="180.00" cy="210.50" r="2.08" fill="#111" stroke="#111" stroke-width="0.5"/>
<path d="M178.44,210.40 A1.66,1.66 0 0 1 180.10,208.94 L179.79,210.29 Z" fill="#fff"/>
<text font-size="5.7" text-anchor="start" font-weight="normal" fill="#1a1a1a" transform="translate(197.70 212.20) scale(1 1.001)" stroke="#1a1a1a" stroke-width="0.26">RPMI 8226</text>
<line x1="168.50" y1="224.20" x2="191.50" y2="224.20" stroke="#444" stroke-width="0.8"/>
<path d="M180.00,222.28 L181.92,224.20 L180.00,226.12 L178.08,224.20 Z" fill="#fff" stroke="#222" stroke-width="0.7"/>
<path d="M180.00,222.28 L178.08,224.20 L180.00,226.12 Z" fill="#222"/>
<text font-size="5.7" text-anchor="start" font-weight="normal" fill="#1a1a1a" transform="translate(197.70 225.90) scale(1 1.001)" stroke="#1a1a1a" stroke-width="0.26">RPMI 8226/Dox40</text>
<line x1="168.50" y1="237.90" x2="191.50" y2="237.90" stroke="#444" stroke-width="0.8"/>
<rect x="178.77" y="236.67" width="2.46" height="2.46" fill="#111"/>
<path d="M178.24,236.14 L181.76,239.66 M181.76,236.14 L178.24,239.66 M180.00,235.96 L180.00,239.84" stroke="#111" stroke-width="0.7"/>
<text font-size="5.7" text-anchor="start" font-weight="normal" fill="#1a1a1a" transform="translate(197.70 239.60) scale(1 1.001)" stroke="#1a1a1a" stroke-width="0.26">RPMI 8226/LR5</text>
<text font-size="12.4" text-anchor="start" font-weight="bold" fill="#0a0a0a" transform="translate(255.40 152.10) scale(1 1.001)" stroke="#0a0a0a" stroke-width="0.45">D</text>
<line x1="279.80" y1="158.50" x2="468.60" y2="158.50" stroke="#4a4a4a" stroke-width="1.0"/>
<line x1="468.60" y1="158.00" x2="468.60" y2="273.20" stroke="#4a4a4a" stroke-width="1.05"/>
<line x1="279.80" y1="158.10" x2="279.80" y2="273.60" stroke="#2a2a2a" stroke-width="0.9"/>
<line x1="279.40" y1="273.20" x2="468.60" y2="273.20" stroke="#2a2a2a" stroke-width="0.9"/>
<line x1="276.90" y1="273.20" x2="279.80" y2="273.20" stroke="#1a1a1a" stroke-width="0.85"/>
<text font-size="4.6" text-anchor="end" font-weight="normal" fill="#1a1a1a" transform="translate(274.60 274.10) scale(1 1.001)" stroke="#1a1a1a" stroke-width="0.26">0</text>
<line x1="276.90" y1="250.26" x2="279.80" y2="250.26" stroke="#1a1a1a" stroke-width="0.85"/>
<text font-size="4.6" text-anchor="end" font-weight="normal" fill="#1a1a1a" transform="translate(274.60 251.16) scale(1 1.001)" stroke="#1a1a1a" stroke-width="0.26">25</text>
<line x1="276.90" y1="227.32" x2="279.80" y2="227.32" stroke="#1a1a1a" stroke-width="0.85"/>
<text font-size="4.6" text-anchor="end" font-weight="normal" fill="#1a1a1a" transform="translate(274.60 228.22) scale(1 1.001)" stroke="#1a1a1a" stroke-width="0.26">50</text>
<line x1="276.90" y1="204.38" x2="279.80" y2="204.38" stroke="#1a1a1a" stroke-width="0.85"/>
<text font-size="4.6" text-anchor="end" font-weight="normal" fill="#1a1a1a" transform="translate(274.60 205.28) scale(1 1.001)" stroke="#1a1a1a" stroke-width="0.26">75</text>
<line x1="276.90" y1="181.44" x2="279.80" y2="181.44" stroke="#1a1a1a" stroke-width="0.85"/>
<text font-size="4.6" text-anchor="end" font-weight="normal" fill="#1a1a1a" transform="translate(274.60 182.34) scale(1 1.001)" stroke="#1a1a1a" stroke-width="0.26">100</text>
<line x1="276.90" y1="158.50" x2="279.80" y2="158.50" stroke="#1a1a1a" stroke-width="0.85"/>
<text font-size="4.6" text-anchor="end" font-weight="normal" fill="#1a1a1a" transform="translate(274.60 159.40) scale(1 1.001)" stroke="#1a1a1a" stroke-width="0.26">125</text>
<text font-size="5.7" text-anchor="middle" font-weight="normal" fill="#1a1a1a" transform="translate(261.80 215.60) rotate(-90) scale(1 1.001)" stroke="#1a1a1a" stroke-width="0.26">Relative number of viable cells (%)</text>
<text font-size="5.7" text-anchor="middle" font-weight="normal" fill="#1a1a1a" transform="translate(374.20 293.50) scale(1 1.001)" stroke="#1a1a1a" stroke-width="0.26">Patient</text>
<rect x="282.30" y="181.44" width="2.60" height="91.76" fill="#fff" stroke="#333" stroke-width="0.45"/>
<rect x="284.90" y="185.11" width="2.60" height="88.09" fill="#fff" stroke="none" stroke-width="0"/>
<clipPath id="c0_1"><rect x="284.90" y="185.11" width="2.60" height="88.09"/></clipPath><g clip-path="url(#c0_1)">
<line x1="284.70" y1="184.11" x2="287.70" y2="186.58" stroke="#111" stroke-width="0.8"/>
<line x1="284.70" y1="187.91" x2="287.70" y2="190.38" stroke="#111" stroke-width="0.8"/>
<line x1="284.70" y1="191.71" x2="287.70" y2="194.18" stroke="#111" stroke-width="0.8"/>
<line x1="284.70" y1="195.51" x2="287.70" y2="197.98" stroke="#111" stroke-width="0.8"/>
<line x1="284.70" y1="199.31" x2="287.70" y2="201.78" stroke="#111" stroke-width="0.8"/>
<line x1="284.70" y1="203.11" x2="287.70" y2="205.58" stroke="#111" stroke-width="0.8"/>
<line x1="284.70" y1="206.91" x2="287.70" y2="209.38" stroke="#111" stroke-width="0.8"/>
<line x1="284.70" y1="210.71" x2="287.70" y2="213.18" stroke="#111" stroke-width="0.8"/>
<line x1="284.70" y1="214.51" x2="287.70" y2="216.98" stroke="#111" stroke-width="0.8"/>
<line x1="284.70" y1="218.31" x2="287.70" y2="220.78" stroke="#111" stroke-width="0.8"/>
<line x1="284.70" y1="222.11" x2="287.70" y2="224.58" stroke="#111" stroke-width="0.8"/>
<line x1="284.70" y1="225.91" x2="287.70" y2="228.38" stroke="#111" stroke-width="0.8"/>
<line x1="284.70" y1="229.71" x2="287.70" y2="232.18" stroke="#111" stroke-width="0.8"/>
<line x1="284.70" y1="233.51" x2="287.70" y2="235.98" stroke="#111" stroke-width="0.8"/>
<line x1="284.70" y1="237.31" x2="287.70" y2="239.78" stroke="#111" stroke-width="0.8"/>
<line x1="284.70" y1="241.11" x2="287.70" y2="243.58" stroke="#111" stroke-width="0.8"/>
<line x1="284.70" y1="244.91" x2="287.70" y2="247.38" stroke="#111" stroke-width="0.8"/>
<line x1="284.70" y1="248.71" x2="287.70" y2="251.18" stroke="#111" stroke-width="0.8"/>
<line x1="284.70" y1="252.51" x2="287.70" y2="254.98" stroke="#111" stroke-width="0.8"/>
<line x1="284.70" y1="256.31" x2="287.70" y2="258.78" stroke="#111" stroke-width="0.8"/>
<line x1="284.70" y1="260.11" x2="287.70" y2="262.58" stroke="#111" stroke-width="0.8"/>
<line x1="284.70" y1="263.91" x2="287.70" y2="266.38" stroke="#111" stroke-width="0.8"/>
<line x1="284.70" y1="267.71" x2="287.70" y2="270.18" stroke="#111" stroke-width="0.8"/>
<line x1="284.70" y1="271.51" x2="287.70" y2="273.98" stroke="#111" stroke-width="0.8"/>
</g>
<rect x="284.90" y="185.11" width="2.60" height="88.09" fill="none" stroke="#333" stroke-width="0.5"/>
<rect x="287.50" y="207.13" width="2.60" height="66.07" fill="#fff" stroke="none" stroke-width="0"/>
<clipPath id="c0_2"><rect x="287.50" y="207.13" width="2.60" height="66.07"/></clipPath><g clip-path="url(#c0_2)">
<rect x="287.50" y="208.73" width="2.60" height="0.85" fill="#2a2a2a" stroke="none" stroke-width="0"/>
<rect x="287.50" y="211.63" width="2.60" height="0.85" fill="#2a2a2a" stroke="none" stroke-width="0"/>
<rect x="287.50" y="214.53" width="2.60" height="0.85" fill="#2a2a2a" stroke="none" stroke-width="0"/>
<rect x="287.50" y="217.43" width="2.60" height="0.85" fill="#2a2a2a" stroke="none" stroke-width="0"/>
<rect x="287.50" y="220.33" width="2.60" height="0.85" fill="#2a2a2a" stroke="none" stroke-width="0"/>
<rect x="287.50" y="223.23" width="2.60" height="0.85" fill="#2a2a2a" stroke="none" stroke-width="0"/>
<rect x="287.50" y="226.13" width="2.60" height="0.85" fill="#2a2a2a" stroke="none" stroke-width="0"/>
<rect x="287.50" y="229.03" width="2.60" height="0.85" fill="#2a2a2a" stroke="none" stroke-width="0"/>
<rect x="287.50" y="231.93" width="2.60" height="0.85" fill="#2a2a2a" stroke="none" stroke-width="0"/>
<rect x="287.50" y="234.83" width="2.60" height="0.85" fill="#2a2a2a" stroke="none" stroke-width="0"/>
<rect x="287.50" y="237.73" width="2.60" height="0.85" fill="#2a2a2a" stroke="none" stroke-width="0"/>
<rect x="287.50" y="240.63" width="2.60" height="0.85" fill="#2a2a2a" stroke="none" stroke-width="0"/>
<rect x="287.50" y="243.53" width="2.60" height="0.85" fill="#2a2a2a" stroke="none" stroke-width="0"/>
<rect x="287.50" y="246.43" width="2.60" height="0.85" fill="#2a2a2a" stroke="none" stroke-width="0"/>
<rect x="287.50" y="249.33" width="2.60" height="0.85" fill="#2a2a2a" stroke="none" stroke-width="0"/>
<rect x="287.50" y="252.23" width="2.60" height="0.85" fill="#2a2a2a" stroke="none" stroke-width="0"/>
<rect x="287.50" y="255.13" width="2.60" height="0.85" fill="#2a2a2a" stroke="none" stroke-width="0"/>
<rect x="287.50" y="258.03" width="2.60" height="0.85" fill="#2a2a2a" stroke="none" stroke-width="0"/>
<rect x="287.50" y="260.93" width="2.60" height="0.85" fill="#2a2a2a" stroke="none" stroke-width="0"/>
<rect x="287.50" y="263.83" width="2.60" height="0.85" fill="#2a2a2a" stroke="none" stroke-width="0"/>
<rect x="287.50" y="266.73" width="2.60" height="0.85" fill="#2a2a2a" stroke="none" stroke-width="0"/>
<rect x="287.50" y="269.63" width="2.60" height="0.85" fill="#2a2a2a" stroke="none" stroke-width="0"/>
<rect x="287.50" y="272.53" width="2.60" height="0.85" fill="#2a2a2a" stroke="none" stroke-width="0"/>
</g>
<rect x="287.50" y="207.13" width="2.60" height="66.07" fill="none" stroke="#333" stroke-width="0.5"/>
<rect x="290.10" y="222.73" width="2.60" height="50.47" fill="url(#dense)" stroke="#333" stroke-width="0.45"/>
<rect x="292.70" y="227.32" width="2.60" height="45.88" fill="#111" stroke="#333" stroke-width="0.45"/>
<line x1="283.60" y1="181.44" x2="283.60" y2="176.85" stroke="#444" stroke-width="0.5"/>
<line x1="282.80" y1="176.85" x2="284.40" y2="176.85" stroke="#444" stroke-width="0.5"/>
<line x1="286.20" y1="185.11" x2="286.20" y2="183.28" stroke="#444" stroke-width="0.5"/>
<line x1="285.40" y1="183.28" x2="287.00" y2="183.28" stroke="#444" stroke-width="0.5"/>
<line x1="288.80" y1="207.13" x2="288.80" y2="202.54" stroke="#444" stroke-width="0.5"/>
<line x1="288.00" y1="202.54" x2="289.60" y2="202.54" stroke="#444" stroke-width="0.5"/>
<line x1="291.40" y1="222.73" x2="291.40" y2="220.90" stroke="#444" stroke-width="0.5"/>
<line x1="290.60" y1="220.90" x2="292.20" y2="220.90" stroke="#444" stroke-width="0.5"/>
<line x1="288.80" y1="273.20" x2="288.80" y2="276.00" stroke="#1a1a1a" stroke-width="0.85"/>
<text font-size="4.7" text-anchor="middle" font-weight="normal" fill="#1a1a1a" transform="translate(288.80 282.00) scale(1 1.001)" stroke="#1a1a1a" stroke-width="0.26">1</text>
<rect x="301.17" y="180.52" width="2.60" height="92.68" fill="#fff" stroke="#333" stroke-width="0.45"/>
<rect x="303.77" y="184.19" width="2.60" height="89.01" fill="#fff" stroke="none" stroke-width="0"/>
<clipPath id="c1_1"><rect x="303.77" y="184.19" width="2.60" height="89.01"/></clipPath><g clip-path="url(#c1_1)">
<line x1="303.57" y1="183.89" x2="306.57" y2="186.36" stroke="#111" stroke-width="0.8"/>
<line x1="303.57" y1="187.69" x2="306.57" y2="190.16" stroke="#111" stroke-width="0.8"/>
<line x1="303.57" y1="191.49" x2="306.57" y2="193.96" stroke="#111" stroke-width="0.8"/>
<line x1="303.57" y1="195.29" x2="306.57" y2="197.76" stroke="#111" stroke-width="0.8"/>
<line x1="303.57" y1="199.09" x2="306.57" y2="201.56" stroke="#111" stroke-width="0.8"/>
<line x1="303.57" y1="202.89" x2="306.57" y2="205.36" stroke="#111" stroke-width="0.8"/>
<line x1="303.57" y1="206.69" x2="306.57" y2="209.16" stroke="#111" stroke-width="0.8"/>
<line x1="303.57" y1="210.49" x2="306.57" y2="212.96" stroke="#111" stroke-width="0.8"/>
<line x1="303.57" y1="214.29" x2="306.57" y2="216.76" stroke="#111" stroke-width="0.8"/>
<line x1="303.57" y1="218.09" x2="306.57" y2="220.56" stroke="#111" stroke-width="0.8"/>
<line x1="303.57" y1="221.89" x2="306.57" y2="224.36" stroke="#111" stroke-width="0.8"/>
<line x1="303.57" y1="225.69" x2="306.57" y2="228.16" stroke="#111" stroke-width="0.8"/>
<line x1="303.57" y1="229.49" x2="306.57" y2="231.96" stroke="#111" stroke-width="0.8"/>
<line x1="303.57" y1="233.29" x2="306.57" y2="235.76" stroke="#111" stroke-width="0.8"/>
<line x1="303.57" y1="237.09" x2="306.57" y2="239.56" stroke="#111" stroke-width="0.8"/>
<line x1="303.57" y1="240.89" x2="306.57" y2="243.36" stroke="#111" stroke-width="0.8"/>
<line x1="303.57" y1="244.69" x2="306.57" y2="247.16" stroke="#111" stroke-width="0.8"/>
<line x1="303.57" y1="248.49" x2="306.57" y2="250.96" stroke="#111" stroke-width="0.8"/>
<line x1="303.57" y1="252.29" x2="306.57" y2="254.76" stroke="#111" stroke-width="0.8"/>
<line x1="303.57" y1="256.09" x2="306.57" y2="258.56" stroke="#111" stroke-width="0.8"/>
<line x1="303.57" y1="259.89" x2="306.57" y2="262.36" stroke="#111" stroke-width="0.8"/>
<line x1="303.57" y1="263.69" x2="306.57" y2="266.16" stroke="#111" stroke-width="0.8"/>
<line x1="303.57" y1="267.49" x2="306.57" y2="269.96" stroke="#111" stroke-width="0.8"/>
<line x1="303.57" y1="271.29" x2="306.57" y2="273.76" stroke="#111" stroke-width="0.8"/>
</g>
<rect x="303.77" y="184.19" width="2.60" height="89.01" fill="none" stroke="#333" stroke-width="0.5"/>
<rect x="306.37" y="189.70" width="2.60" height="83.50" fill="#fff" stroke="none" stroke-width="0"/>
<clipPath id="c1_2"><rect x="306.37" y="189.70" width="2.60" height="83.50"/></clipPath><g clip-path="url(#c1_2)">
<rect x="306.37" y="192.60" width="2.60" height="0.85" fill="#2a2a2a" stroke="none" stroke-width="0"/>
<rect x="306.37" y="195.50" width="2.60" height="0.85" fill="#2a2a2a" stroke="none" stroke-width="0"/>
<rect x="306.37" y="198.40" width="2.60" height="0.85" fill="#2a2a2a" stroke="none" stroke-width="0"/>
<rect x="306.37" y="201.30" width="2.60" height="0.85" fill="#2a2a2a" stroke="none" stroke-width="0"/>
<rect x="306.37" y="204.20" width="2.60" height="0.85" fill="#2a2a2a" stroke="none" stroke-width="0"/>
<rect x="306.37" y="207.10" width="2.60" height="0.85" fill="#2a2a2a" stroke="none" stroke-width="0"/>
<rect x="306.37" y="210.00" width="2.60" height="0.85" fill="#2a2a2a" stroke="none" stroke-width="0"/>
<rect x="306.37" y="212.90" width="2.60" height="0.85" fill="#2a2a2a" stroke="none" stroke-width="0"/>
<rect x="306.37" y="215.80" width="2.60" height="0.85" fill="#2a2a2a" stroke="none" stroke-width="0"/>
<rect x="306.37" y="218.70" width="2.60" height="0.85" fill="#2a2a2a" stroke="none" stroke-width="0"/>
<rect x="306.37" y="221.60" width="2.60" height="0.85" fill="#2a2a2a" stroke="none" stroke-width="0"/>
<rect x="306.37" y="224.50" width="2.60" height="0.85" fill="#2a2a2a" stroke="none" stroke-width="0"/>
<rect x="306.37" y="227.40" width="2.60" height="0.85" fill="#2a2a2a" stroke="none" stroke-width="0"/>
<rect x="306.37" y="230.30" width="2.60" height="0.85" fill="#2a2a2a" stroke="none" stroke-width="0"/>
<rect x="306.37" y="233.20" width="2.60" height="0.85" fill="#2a2a2a" stroke="none" stroke-width="0"/>
<rect x="306.37" y="236.10" width="2.60" height="0.85" fill="#2a2a2a" stroke="none" stroke-width="0"/>
<rect x="306.37" y="239.00" width="2.60" height="0.85" fill="#2a2a2a" stroke="none" stroke-width="0"/>
<rect x="306.37" y="241.90" width="2.60" height="0.85" fill="#2a2a2a" stroke="none" stroke-width="0"/>
<rect x="306.37" y="244.80" width="2.60" height="0.85" fill="#2a2a2a" stroke="none" stroke-width="0"/>
<rect x="306.37" y="247.70" width="2.60" height="0.85" fill="#2a2a2a" stroke="none" stroke-width="0"/>
<rect x="306.37" y="250.60" width="2.60" height="0.85" fill="#2a2a2a" stroke="none" stroke-width="0"/>
<rect x="306.37" y="253.50" width="2.60" height="0.85" fill="#2a2a2a" stroke="none" stroke-width="0"/>
<rect x="306.37" y="256.40" width="2.60" height="0.85" fill="#2a2a2a" stroke="none" stroke-width="0"/>
<rect x="306.37" y="259.30" width="2.60" height="0.85" fill="#2a2a2a" stroke="none" stroke-width="0"/>
<rect x="306.37" y="262.20" width="2.60" height="0.85" fill="#2a2a2a" stroke="none" stroke-width="0"/>
<rect x="306.37" y="265.10" width="2.60" height="0.85" fill="#2a2a2a" stroke="none" stroke-width="0"/>
<rect x="306.37" y="268.00" width="2.60" height="0.85" fill="#2a2a2a" stroke="none" stroke-width="0"/>
<rect x="306.37" y="270.90" width="2.60" height="0.85" fill="#2a2a2a" stroke="none" stroke-width="0"/>
</g>
<rect x="306.37" y="189.70" width="2.60" height="83.50" fill="none" stroke="#333" stroke-width="0.5"/>
<rect x="308.97" y="219.06" width="2.60" height="54.14" fill="url(#dense)" stroke="#333" stroke-width="0.45"/>
<rect x="311.57" y="231.91" width="2.60" height="41.29" fill="#111" stroke="#333" stroke-width="0.45"/>
<line x1="307.67" y1="273.20" x2="307.67" y2="276.00" stroke="#1a1a1a" stroke-width="0.85"/>
<text font-size="4.7" text-anchor="middle" font-weight="normal" fill="#1a1a1a" transform="translate(307.67 282.00) scale(1 1.001)" stroke="#1a1a1a" stroke-width="0.26">2</text>
<rect x="320.04" y="180.52" width="2.60" height="92.68" fill="#fff" stroke="#333" stroke-width="0.45"/>
<rect x="322.64" y="181.44" width="2.60" height="91.76" fill="#fff" stroke="none" stroke-width="0"/>
<clipPath id="c2_1"><rect x="322.64" y="181.44" width="2.60" height="91.76"/></clipPath><g clip-path="url(#c2_1)">
<line x1="322.44" y1="181.84" x2="325.44" y2="184.31" stroke="#111" stroke-width="0.8"/>
<line x1="322.44" y1="185.64" x2="325.44" y2="188.11" stroke="#111" stroke-width="0.8"/>
<line x1="322.44" y1="189.44" x2="325.44" y2="191.91" stroke="#111" stroke-width="0.8"/>
<line x1="322.44" y1="193.24" x2="325.44" y2="195.71" stroke="#111" stroke-width="0.8"/>
<line x1="322.44" y1="197.04" x2="325.44" y2="199.51" stroke="#111" stroke-width="0.8"/>
<line x1="322.44" y1="200.84" x2="325.44" y2="203.31" stroke="#111" stroke-width="0.8"/>
<line x1="322.44" y1="204.64" x2="325.44" y2="207.11" stroke="#111" stroke-width="0.8"/>
<line x1="322.44" y1="208.44" x2="325.44" y2="210.91" stroke="#111" stroke-width="0.8"/>
<line x1="322.44" y1="212.24" x2="325.44" y2="214.71" stroke="#111" stroke-width="0.8"/>
<line x1="322.44" y1="216.04" x2="325.44" y2="218.51" stroke="#111" stroke-width="0.8"/>
<line x1="322.44" y1="219.84" x2="325.44" y2="222.31" stroke="#111" stroke-width="0.8"/>
<line x1="322.44" y1="223.64" x2="325.44" y2="226.11" stroke="#111" stroke-width="0.8"/>
<line x1="322.44" y1="227.44" x2="325.44" y2="229.91" stroke="#111" stroke-width="0.8"/>
<line x1="322.44" y1="231.24" x2="325.44" y2="233.71" stroke="#111" stroke-width="0.8"/>
<line x1="322.44" y1="235.04" x2="325.44" y2="237.51" stroke="#111" stroke-width="0.8"/>
<line x1="322.44" y1="238.84" x2="325.44" y2="241.31" stroke="#111" stroke-width="0.8"/>
<line x1="322.44" y1="242.64" x2="325.44" y2="245.11" stroke="#111" stroke-width="0.8"/>
<line x1="322.44" y1="246.44" x2="325.44" y2="248.91" stroke="#111" stroke-width="0.8"/>
<line x1="322.44" y1="250.24" x2="325.44" y2="252.71" stroke="#111" stroke-width="0.8"/>
<line x1="322.44" y1="254.04" x2="325.44" y2="256.51" stroke="#111" stroke-width="0.8"/>
<line x1="322.44" y1="257.84" x2="325.44" y2="260.31" stroke="#111" stroke-width="0.8"/>
<line x1="322.44" y1="261.64" x2="325.44" y2="264.11" stroke="#111" stroke-width="0.8"/>
<line x1="322.44" y1="265.44" x2="325.44" y2="267.91" stroke="#111" stroke-width="0.8"/>
<line x1="322.44" y1="269.24" x2="325.44" y2="271.71" stroke="#111" stroke-width="0.8"/>
<line x1="322.44" y1="273.04" x2="325.44" y2="275.51" stroke="#111" stroke-width="0.8"/>
</g>
<rect x="322.64" y="181.44" width="2.60" height="91.76" fill="none" stroke="#333" stroke-width="0.5"/>
<rect x="325.24" y="189.70" width="2.60" height="83.50" fill="#fff" stroke="none" stroke-width="0"/>
<clipPath id="c2_2"><rect x="325.24" y="189.70" width="2.60" height="83.50"/></clipPath><g clip-path="url(#c2_2)">
<rect x="325.24" y="193.90" width="2.60" height="0.85" fill="#2a2a2a" stroke="none" stroke-width="0"/>
<rect x="325.24" y="196.80" width="2.60" height="0.85" fill="#2a2a2a" stroke="none" stroke-width="0"/>
<rect x="325.24" y="199.70" width="2.60" height="0.85" fill="#2a2a2a" stroke="none" stroke-width="0"/>
<rect x="325.24" y="202.60" width="2.60" height="0.85" fill="#2a2a2a" stroke="none" stroke-width="0"/>
<rect x="325.24" y="205.50" width="2.60" height="0.85" fill="#2a2a2a" stroke="none" stroke-width="0"/>
<rect x="325.24" y="208.40" width="2.60" height="0.85" fill="#2a2a2a" stroke="none" stroke-width="0"/>
<rect x="325.24" y="211.30" width="2.60" height="0.85" fill="#2a2a2a" stroke="none" stroke-width="0"/>
<rect x="325.24" y="214.20" width="2.60" height="0.85" fill="#2a2a2a" stroke="none" stroke-width="0"/>
<rect x="325.24" y="217.10" width="2.60" height="0.85" fill="#2a2a2a" stroke="none" stroke-width="0"/>
<rect x="325.24" y="220.00" width="2.60" height="0.85" fill="#2a2a2a" stroke="none" stroke-width="0"/>
<rect x="325.24" y="222.90" width="2.60" height="0.85" fill="#2a2a2a" stroke="none" stroke-width="0"/>
<rect x="325.24" y="225.80" width="2.60" height="0.85" fill="#2a2a2a" stroke="none" stroke-width="0"/>
<rect x="325.24" y="228.70" width="2.60" height="0.85" fill="#2a2a2a" stroke="none" stroke-width="0"/>
<rect x="325.24" y="231.60" width="2.60" height="0.85" fill="#2a2a2a" stroke="none" stroke-width="0"/>
<rect x="325.24" y="234.50" width="2.60" height="0.85" fill="#2a2a2a" stroke="none" stroke-width="0"/>
<rect x="325.24" y="237.40" width="2.60" height="0.85" fill="#2a2a2a" stroke="none" stroke-width="0"/>
<rect x="325.24" y="240.30" width="2.60" height="0.85" fill="#2a2a2a" stroke="none" stroke-width="0"/>
<rect x="325.24" y="243.20" width="2.60" height="0.85" fill="#2a2a2a" stroke="none" stroke-width="0"/>
<rect x="325.24" y="246.10" width="2.60" height="0.85" fill="#2a2a2a" stroke="none" stroke-width="0"/>
<rect x="325.24" y="249.00" width="2.60" height="0.85" fill="#2a2a2a" stroke="none" stroke-width="0"/>
<rect x="325.24" y="251.90" width="2.60" height="0.85" fill="#2a2a2a" stroke="none" stroke-width="0"/>
<rect x="325.24" y="254.80" width="2.60" height="0.85" fill="#2a2a2a" stroke="none" stroke-width="0"/>
<rect x="325.24" y="257.70" width="2.60" height="0.85" fill="#2a2a2a" stroke="none" stroke-width="0"/>
<rect x="325.24" y="260.60" width="2.60" height="0.85" fill="#2a2a2a" stroke="none" stroke-width="0"/>
<rect x="325.24" y="263.50" width="2.60" height="0.85" fill="#2a2a2a" stroke="none" stroke-width="0"/>
<rect x="325.24" y="266.40" width="2.60" height="0.85" fill="#2a2a2a" stroke="none" stroke-width="0"/>
<rect x="325.24" y="269.30" width="2.60" height="0.85" fill="#2a2a2a" stroke="none" stroke-width="0"/>
<rect x="325.24" y="272.20" width="2.60" height="0.85" fill="#2a2a2a" stroke="none" stroke-width="0"/>
</g>
<rect x="325.24" y="189.70" width="2.60" height="83.50" fill="none" stroke="#333" stroke-width="0.5"/>
<rect x="327.84" y="236.50" width="2.60" height="36.70" fill="url(#dense)" stroke="#333" stroke-width="0.45"/>
<rect x="330.44" y="242.00" width="2.60" height="31.20" fill="#111" stroke="#333" stroke-width="0.45"/>
<line x1="321.34" y1="180.52" x2="321.34" y2="178.69" stroke="#444" stroke-width="0.5"/>
<line x1="320.54" y1="178.69" x2="322.14" y2="178.69" stroke="#444" stroke-width="0.5"/>
<line x1="326.54" y1="189.70" x2="326.54" y2="183.28" stroke="#444" stroke-width="0.5"/>
<line x1="325.74" y1="183.28" x2="327.34" y2="183.28" stroke="#444" stroke-width="0.5"/>
<line x1="326.54" y1="273.20" x2="326.54" y2="276.00" stroke="#1a1a1a" stroke-width="0.85"/>
<text font-size="4.7" text-anchor="middle" font-weight="normal" fill="#1a1a1a" transform="translate(326.54 282.00) scale(1 1.001)" stroke="#1a1a1a" stroke-width="0.26">3</text>
<rect x="338.91" y="181.44" width="2.60" height="91.76" fill="#fff" stroke="#333" stroke-width="0.45"/>
<rect x="341.51" y="191.53" width="2.60" height="81.67" fill="#fff" stroke="none" stroke-width="0"/>
<clipPath id="c3_1"><rect x="341.51" y="191.53" width="2.60" height="81.67"/></clipPath><g clip-path="url(#c3_1)">
<line x1="341.31" y1="192.63" x2="344.31" y2="195.10" stroke="#111" stroke-width="0.8"/>
<line x1="341.31" y1="196.43" x2="344.31" y2="198.90" stroke="#111" stroke-width="0.8"/>
<line x1="341.31" y1="200.23" x2="344.31" y2="202.70" stroke="#111" stroke-width="0.8"/>
<line x1="341.31" y1="204.03" x2="344.31" y2="206.50" stroke="#111" stroke-width="0.8"/>
<line x1="341.31" y1="207.83" x2="344.31" y2="210.30" stroke="#111" stroke-width="0.8"/>
<line x1="341.31" y1="211.63" x2="344.31" y2="214.10" stroke="#111" stroke-width="0.8"/>
<line x1="341.31" y1="215.43" x2="344.31" y2="217.90" stroke="#111" stroke-width="0.8"/>
<line x1="341.31" y1="219.23" x2="344.31" y2="221.70" stroke="#111" stroke-width="0.8"/>
<line x1="341.31" y1="223.03" x2="344.31" y2="225.50" stroke="#111" stroke-width="0.8"/>
<line x1="341.31" y1="226.83" x2="344.31" y2="229.30" stroke="#111" stroke-width="0.8"/>
<line x1="341.31" y1="230.63" x2="344.31" y2="233.10" stroke="#111" stroke-width="0.8"/>
<line x1="341.31" y1="234.43" x2="344.31" y2="236.90" stroke="#111" stroke-width="0.8"/>
<line x1="341.31" y1="238.23" x2="344.31" y2="240.70" stroke="#111" stroke-width="0.8"/>
<line x1="341.31" y1="242.03" x2="344.31" y2="244.50" stroke="#111" stroke-width="0.8"/>
<line x1="341.31" y1="245.83" x2="344.31" y2="248.30" stroke="#111" stroke-width="0.8"/>
<line x1="341.31" y1="249.63" x2="344.31" y2="252.10" stroke="#111" stroke-width="0.8"/>
<line x1="341.31" y1="253.43" x2="344.31" y2="255.90" stroke="#111" stroke-width="0.8"/>
<line x1="341.31" y1="257.23" x2="344.31" y2="259.70" stroke="#111" stroke-width="0.8"/>
<line x1="341.31" y1="261.03" x2="344.31" y2="263.50" stroke="#111" stroke-width="0.8"/>
<line x1="341.31" y1="264.83" x2="344.31" y2="267.30" stroke="#111" stroke-width="0.8"/>
<line x1="341.31" y1="268.63" x2="344.31" y2="271.10" stroke="#111" stroke-width="0.8"/>
<line x1="341.31" y1="272.43" x2="344.31" y2="274.90" stroke="#111" stroke-width="0.8"/>
</g>
<rect x="341.51" y="191.53" width="2.60" height="81.67" fill="none" stroke="#333" stroke-width="0.5"/>
<rect x="344.11" y="193.37" width="2.60" height="79.83" fill="#fff" stroke="none" stroke-width="0"/>
<clipPath id="c3_2"><rect x="344.11" y="193.37" width="2.60" height="79.83"/></clipPath><g clip-path="url(#c3_2)">
<rect x="344.11" y="195.97" width="2.60" height="0.85" fill="#2a2a2a" stroke="none" stroke-width="0"/>
<rect x="344.11" y="198.87" width="2.60" height="0.85" fill="#2a2a2a" stroke="none" stroke-width="0"/>
<rect x="344.11" y="201.77" width="2.60" height="0.85" fill="#2a2a2a" stroke="none" stroke-width="0"/>
<rect x="344.11" y="204.67" width="2.60" height="0.85" fill="#2a2a2a" stroke="none" stroke-width="0"/>
<rect x="344.11" y="207.57" width="2.60" height="0.85" fill="#2a2a2a" stroke="none" stroke-width="0"/>
<rect x="344.11" y="210.47" width="2.60" height="0.85" fill="#2a2a2a" stroke="none" stroke-width="0"/>
<rect x="344.11" y="213.37" width="2.60" height="0.85" fill="#2a2a2a" stroke="none" stroke-width="0"/>
<rect x="344.11" y="216.27" width="2.60" height="0.85" fill="#2a2a2a" stroke="none" stroke-width="0"/>
<rect x="344.11" y="219.17" width="2.60" height="0.85" fill="#2a2a2a" stroke="none" stroke-width="0"/>
<rect x="344.11" y="222.07" width="2.60" height="0.85" fill="#2a2a2a" stroke="none" stroke-width="0"/>
<rect x="344.11" y="224.97" width="2.60" height="0.85" fill="#2a2a2a" stroke="none" stroke-width="0"/>
<rect x="344.11" y="227.87" width="2.60" height="0.85" fill="#2a2a2a" stroke="none" stroke-width="0"/>
<rect x="344.11" y="230.77" width="2.60" height="0.85" fill="#2a2a2a" stroke="none" stroke-width="0"/>
<rect x="344.11" y="233.67" width="2.60" height="0.85" fill="#2a2a2a" stroke="none" stroke-width="0"/>
<rect x="344.11" y="236.57" width="2.60" height="0.85" fill="#2a2a2a" stroke="none" stroke-width="0"/>
<rect x="344.11" y="239.47" width="2.60" height="0.85" fill="#2a2a2a" stroke="none" stroke-width="0"/>
<rect x="344.11" y="242.37" width="2.60" height="0.85" fill="#2a2a2a" stroke="none" stroke-width="0"/>
<rect x="344.11" y="245.27" width="2.60" height="0.85" fill="#2a2a2a" stroke="none" stroke-width="0"/>
<rect x="344.11" y="248.17" width="2.60" height="0.85" fill="#2a2a2a" stroke="none" stroke-width="0"/>
<rect x="344.11" y="251.07" width="2.60" height="0.85" fill="#2a2a2a" stroke="none" stroke-width="0"/>
<rect x="344.11" y="253.97" width="2.60" height="0.85" fill="#2a2a2a" stroke="none" stroke-width="0"/>
<rect x="344.11" y="256.87" width="2.60" height="0.85" fill="#2a2a2a" stroke="none" stroke-width="0"/>
<rect x="344.11" y="259.77" width="2.60" height="0.85" fill="#2a2a2a" stroke="none" stroke-width="0"/>
<rect x="344.11" y="262.67" width="2.60" height="0.85" fill="#2a2a2a" stroke="none" stroke-width="0"/>
<rect x="344.11" y="265.57" width="2.60" height="0.85" fill="#2a2a2a" stroke="none" stroke-width="0"/>
<rect x="344.11" y="268.47" width="2.60" height="0.85" fill="#2a2a2a" stroke="none" stroke-width="0"/>
<rect x="344.11" y="271.37" width="2.60" height="0.85" fill="#2a2a2a" stroke="none" stroke-width="0"/>
</g>
<rect x="344.11" y="193.37" width="2.60" height="79.83" fill="none" stroke="#333" stroke-width="0.5"/>
<rect x="346.71" y="208.97" width="2.60" height="64.23" fill="url(#dense)" stroke="#333" stroke-width="0.45"/>
<rect x="349.31" y="208.05" width="2.60" height="65.15" fill="#111" stroke="#333" stroke-width="0.45"/>
<line x1="340.21" y1="181.44" x2="340.21" y2="177.77" stroke="#444" stroke-width="0.5"/>
<line x1="339.41" y1="177.77" x2="341.01" y2="177.77" stroke="#444" stroke-width="0.5"/>
<line x1="345.41" y1="273.20" x2="345.41" y2="276.00" stroke="#1a1a1a" stroke-width="0.85"/>
<text font-size="4.7" text-anchor="middle" font-weight="normal" fill="#1a1a1a" transform="translate(345.41 282.00) scale(1 1.001)" stroke="#1a1a1a" stroke-width="0.26">4</text>
<rect x="357.78" y="181.44" width="2.60" height="91.76" fill="#fff" stroke="#333" stroke-width="0.45"/>
<rect x="360.38" y="186.95" width="2.60" height="86.25" fill="#fff" stroke="none" stroke-width="0"/>
<clipPath id="c4_1"><rect x="360.38" y="186.95" width="2.60" height="86.25"/></clipPath><g clip-path="url(#c4_1)">
<line x1="360.18" y1="188.75" x2="363.18" y2="191.22" stroke="#111" stroke-width="0.8"/>
<line x1="360.18" y1="192.55" x2="363.18" y2="195.02" stroke="#111" stroke-width="0.8"/>
<line x1="360.18" y1="196.35" x2="363.18" y2="198.82" stroke="#111" stroke-width="0.8"/>
<line x1="360.18" y1="200.15" x2="363.18" y2="202.62" stroke="#111" stroke-width="0.8"/>
<line x1="360.18" y1="203.95" x2="363.18" y2="206.42" stroke="#111" stroke-width="0.8"/>
<line x1="360.18" y1="207.75" x2="363.18" y2="210.22" stroke="#111" stroke-width="0.8"/>
<line x1="360.18" y1="211.55" x2="363.18" y2="214.02" stroke="#111" stroke-width="0.8"/>
<line x1="360.18" y1="215.35" x2="363.18" y2="217.82" stroke="#111" stroke-width="0.8"/>
<line x1="360.18" y1="219.15" x2="363.18" y2="221.62" stroke="#111" stroke-width="0.8"/>
<line x1="360.18" y1="222.95" x2="363.18" y2="225.42" stroke="#111" stroke-width="0.8"/>
<line x1="360.18" y1="226.75" x2="363.18" y2="229.22" stroke="#111" stroke-width="0.8"/>
<line x1="360.18" y1="230.55" x2="363.18" y2="233.02" stroke="#111" stroke-width="0.8"/>
<line x1="360.18" y1="234.35" x2="363.18" y2="236.82" stroke="#111" stroke-width="0.8"/>
<line x1="360.18" y1="238.15" x2="363.18" y2="240.62" stroke="#111" stroke-width="0.8"/>
<line x1="360.18" y1="241.95" x2="363.18" y2="244.42" stroke="#111" stroke-width="0.8"/>
<line x1="360.18" y1="245.75" x2="363.18" y2="248.22" stroke="#111" stroke-width="0.8"/>
<line x1="360.18" y1="249.55" x2="363.18" y2="252.02" stroke="#111" stroke-width="0.8"/>
<line x1="360.18" y1="253.35" x2="363.18" y2="255.82" stroke="#111" stroke-width="0.8"/>
<line x1="360.18" y1="257.15" x2="363.18" y2="259.62" stroke="#111" stroke-width="0.8"/>
<line x1="360.18" y1="260.95" x2="363.18" y2="263.42" stroke="#111" stroke-width="0.8"/>
<line x1="360.18" y1="264.75" x2="363.18" y2="267.22" stroke="#111" stroke-width="0.8"/>
<line x1="360.18" y1="268.55" x2="363.18" y2="271.02" stroke="#111" stroke-width="0.8"/>
<line x1="360.18" y1="272.35" x2="363.18" y2="274.82" stroke="#111" stroke-width="0.8"/>
</g>
<rect x="360.38" y="186.95" width="2.60" height="86.25" fill="none" stroke="#333" stroke-width="0.5"/>
<rect x="362.98" y="187.86" width="2.60" height="85.34" fill="#fff" stroke="none" stroke-width="0"/>
<clipPath id="c4_2"><rect x="362.98" y="187.86" width="2.60" height="85.34"/></clipPath><g clip-path="url(#c4_2)">
<rect x="362.98" y="191.76" width="2.60" height="0.85" fill="#2a2a2a" stroke="none" stroke-width="0"/>
<rect x="362.98" y="194.66" width="2.60" height="0.85" fill="#2a2a2a" stroke="none" stroke-width="0"/>
<rect x="362.98" y="197.56" width="2.60" height="0.85" fill="#2a2a2a" stroke="none" stroke-width="0"/>
<rect x="362.98" y="200.46" width="2.60" height="0.85" fill="#2a2a2a" stroke="none" stroke-width="0"/>
<rect x="362.98" y="203.36" width="2.60" height="0.85" fill="#2a2a2a" stroke="none" stroke-width="0"/>
<rect x="362.98" y="206.26" width="2.60" height="0.85" fill="#2a2a2a" stroke="none" stroke-width="0"/>
<rect x="362.98" y="209.16" width="2.60" height="0.85" fill="#2a2a2a" stroke="none" stroke-width="0"/>
<rect x="362.98" y="212.06" width="2.60" height="0.85" fill="#2a2a2a" stroke="none" stroke-width="0"/>
<rect x="362.98" y="214.96" width="2.60" height="0.85" fill="#2a2a2a" stroke="none" stroke-width="0"/>
<rect x="362.98" y="217.86" width="2.60" height="0.85" fill="#2a2a2a" stroke="none" stroke-width="0"/>
<rect x="362.98" y="220.76" width="2.60" height="0.85" fill="#2a2a2a" stroke="none" stroke-width="0"/>
<rect x="362.98" y="223.66" width="2.60" height="0.85" fill="#2a2a2a" stroke="none" stroke-width="0"/>
<rect x="362.98" y="226.56" width="2.60" height="0.85" fill="#2a2a2a" stroke="none" stroke-width="0"/>
<rect x="362.98" y="229.46" width="2.60" height="0.85" fill="#2a2a2a" stroke="none" stroke-width="0"/>
<rect x="362.98" y="232.36" width="2.60" height="0.85" fill="#2a2a2a" stroke="none" stroke-width="0"/>
<rect x="362.98" y="235.26" width="2.60" height="0.85" fill="#2a2a2a" stroke="none" stroke-width="0"/>
<rect x="362.98" y="238.16" width="2.60" height="0.85" fill="#2a2a2a" stroke="none" stroke-width="0"/>
<rect x="362.98" y="241.06" width="2.60" height="0.85" fill="#2a2a2a" stroke="none" stroke-width="0"/>
<rect x="362.98" y="243.96" width="2.60" height="0.85" fill="#2a2a2a" stroke="none" stroke-width="0"/>
<rect x="362.98" y="246.86" width="2.60" height="0.85" fill="#2a2a2a" stroke="none" stroke-width="0"/>
<rect x="362.98" y="249.76" width="2.60" height="0.85" fill="#2a2a2a" stroke="none" stroke-width="0"/>
<rect x="362.98" y="252.66" width="2.60" height="0.85" fill="#2a2a2a" stroke="none" stroke-width="0"/>
<rect x="362.98" y="255.56" width="2.60" height="0.85" fill="#2a2a2a" stroke="none" stroke-width="0"/>
<rect x="362.98" y="258.46" width="2.60" height="0.85" fill="#2a2a2a" stroke="none" stroke-width="0"/>
<rect x="362.98" y="261.36" width="2.60" height="0.85" fill="#2a2a2a" stroke="none" stroke-width="0"/>
<rect x="362.98" y="264.26" width="2.60" height="0.85" fill="#2a2a2a" stroke="none" stroke-width="0"/>
<rect x="362.98" y="267.16" width="2.60" height="0.85" fill="#2a2a2a" stroke="none" stroke-width="0"/>
<rect x="362.98" y="270.06" width="2.60" height="0.85" fill="#2a2a2a" stroke="none" stroke-width="0"/>
<rect x="362.98" y="272.96" width="2.60" height="0.85" fill="#2a2a2a" stroke="none" stroke-width="0"/>
</g>
<rect x="362.98" y="187.86" width="2.60" height="85.34" fill="none" stroke="#333" stroke-width="0.5"/>
<rect x="365.58" y="188.78" width="2.60" height="84.42" fill="url(#dense)" stroke="#333" stroke-width="0.45"/>
<rect x="368.18" y="230.07" width="2.60" height="43.13" fill="#111" stroke="#333" stroke-width="0.45"/>
<line x1="359.08" y1="181.44" x2="359.08" y2="171.35" stroke="#444" stroke-width="0.5"/>
<line x1="358.28" y1="171.35" x2="359.88" y2="171.35" stroke="#444" stroke-width="0.5"/>
<line x1="364.28" y1="187.86" x2="364.28" y2="183.28" stroke="#444" stroke-width="0.5"/>
<line x1="363.48" y1="183.28" x2="365.08" y2="183.28" stroke="#444" stroke-width="0.5"/>
<line x1="364.28" y1="273.20" x2="364.28" y2="276.00" stroke="#1a1a1a" stroke-width="0.85"/>
<text font-size="4.7" text-anchor="middle" font-weight="normal" fill="#1a1a1a" transform="translate(364.28 282.00) scale(1 1.001)" stroke="#1a1a1a" stroke-width="0.26">5</text>
<rect x="376.65" y="181.44" width="2.60" height="91.76" fill="#fff" stroke="#333" stroke-width="0.45"/>
<rect x="379.25" y="189.70" width="2.60" height="83.50" fill="#fff" stroke="none" stroke-width="0"/>
<clipPath id="c5_1"><rect x="379.25" y="189.70" width="2.60" height="83.50"/></clipPath><g clip-path="url(#c5_1)">
<line x1="379.05" y1="192.20" x2="382.05" y2="194.67" stroke="#111" stroke-width="0.8"/>
<line x1="379.05" y1="196.00" x2="382.05" y2="198.47" stroke="#111" stroke-width="0.8"/>
<line x1="379.05" y1="199.80" x2="382.05" y2="202.27" stroke="#111" stroke-width="0.8"/>
<line x1="379.05" y1="203.60" x2="382.05" y2="206.07" stroke="#111" stroke-width="0.8"/>
<line x1="379.05" y1="207.40" x2="382.05" y2="209.87" stroke="#111" stroke-width="0.8"/>
<line x1="379.05" y1="211.20" x2="382.05" y2="213.67" stroke="#111" stroke-width="0.8"/>
<line x1="379.05" y1="215.00" x2="382.05" y2="217.47" stroke="#111" stroke-width="0.8"/>
<line x1="379.05" y1="218.80" x2="382.05" y2="221.27" stroke="#111" stroke-width="0.8"/>
<line x1="379.05" y1="222.60" x2="382.05" y2="225.07" stroke="#111" stroke-width="0.8"/>
<line x1="379.05" y1="226.40" x2="382.05" y2="228.87" stroke="#111" stroke-width="0.8"/>
<line x1="379.05" y1="230.20" x2="382.05" y2="232.67" stroke="#111" stroke-width="0.8"/>
<line x1="379.05" y1="234.00" x2="382.05" y2="236.47" stroke="#111" stroke-width="0.8"/>
<line x1="379.05" y1="237.80" x2="382.05" y2="240.27" stroke="#111" stroke-width="0.8"/>
<line x1="379.05" y1="241.60" x2="382.05" y2="244.07" stroke="#111" stroke-width="0.8"/>
<line x1="379.05" y1="245.40" x2="382.05" y2="247.87" stroke="#111" stroke-width="0.8"/>
<line x1="379.05" y1="249.20" x2="382.05" y2="251.67" stroke="#111" stroke-width="0.8"/>
<line x1="379.05" y1="253.00" x2="382.05" y2="255.47" stroke="#111" stroke-width="0.8"/>
<line x1="379.05" y1="256.80" x2="382.05" y2="259.27" stroke="#111" stroke-width="0.8"/>
<line x1="379.05" y1="260.60" x2="382.05" y2="263.07" stroke="#111" stroke-width="0.8"/>
<line x1="379.05" y1="264.40" x2="382.05" y2="266.87" stroke="#111" stroke-width="0.8"/>
<line x1="379.05" y1="268.20" x2="382.05" y2="270.67" stroke="#111" stroke-width="0.8"/>
<line x1="379.05" y1="272.00" x2="382.05" y2="274.47" stroke="#111" stroke-width="0.8"/>
</g>
<rect x="379.25" y="189.70" width="2.60" height="83.50" fill="none" stroke="#333" stroke-width="0.5"/>
<rect x="381.85" y="192.45" width="2.60" height="80.75" fill="#fff" stroke="none" stroke-width="0"/>
<clipPath id="c5_2"><rect x="381.85" y="192.45" width="2.60" height="80.75"/></clipPath><g clip-path="url(#c5_2)">
<rect x="381.85" y="194.75" width="2.60" height="0.85" fill="#2a2a2a" stroke="none" stroke-width="0"/>
<rect x="381.85" y="197.65" width="2.60" height="0.85" fill="#2a2a2a" stroke="none" stroke-width="0"/>
<rect x="381.85" y="200.55" width="2.60" height="0.85" fill="#2a2a2a" stroke="none" stroke-width="0"/>
<rect x="381.85" y="203.45" width="2.60" height="0.85" fill="#2a2a2a" stroke="none" stroke-width="0"/>
<rect x="381.85" y="206.35" width="2.60" height="0.85" fill="#2a2a2a" stroke="none" stroke-width="0"/>
<rect x="381.85" y="209.25" width="2.60" height="0.85" fill="#2a2a2a" stroke="none" stroke-width="0"/>
<rect x="381.85" y="212.15" width="2.60" height="0.85" fill="#2a2a2a" stroke="none" stroke-width="0"/>
<rect x="381.85" y="215.05" width="2.60" height="0.85" fill="#2a2a2a" stroke="none" stroke-width="0"/>
<rect x="381.85" y="217.95" width="2.60" height="0.85" fill="#2a2a2a" stroke="none" stroke-width="0"/>
<rect x="381.85" y="220.85" width="2.60" height="0.85" fill="#2a2a2a" stroke="none" stroke-width="0"/>
<rect x="381.85" y="223.75" width="2.60" height="0.85" fill="#2a2a2a" stroke="none" stroke-width="0"/>
<rect x="381.85" y="226.65" width="2.60" height="0.85" fill="#2a2a2a" stroke="none" stroke-width="0"/>
<rect x="381.85" y="229.55" width="2.60" height="0.85" fill="#2a2a2a" stroke="none" stroke-width="0"/>
<rect x="381.85" y="232.45" width="2.60" height="0.85" fill="#2a2a2a" stroke="none" stroke-width="0"/>
<rect x="381.85" y="235.35" width="2.60" height="0.85" fill="#2a2a2a" stroke="none" stroke-width="0"/>
<rect x="381.85" y="238.25" width="2.60" height="0.85" fill="#2a2a2a" stroke="none" stroke-width="0"/>
<rect x="381.85" y="241.15" width="2.60" height="0.85" fill="#2a2a2a" stroke="none" stroke-width="0"/>
<rect x="381.85" y="244.05" width="2.60" height="0.85" fill="#2a2a2a" stroke="none" stroke-width="0"/>
<rect x="381.85" y="246.95" width="2.60" height="0.85" fill="#2a2a2a" stroke="none" stroke-width="0"/>
<rect x="381.85" y="249.85" width="2.60" height="0.85" fill="#2a2a2a" stroke="none" stroke-width="0"/>
<rect x="381.85" y="252.75" width="2.60" height="0.85" fill="#2a2a2a" stroke="none" stroke-width="0"/>
<rect x="381.85" y="255.65" width="2.60" height="0.85" fill="#2a2a2a" stroke="none" stroke-width="0"/>
<rect x="381.85" y="258.55" width="2.60" height="0.85" fill="#2a2a2a" stroke="none" stroke-width="0"/>
<rect x="381.85" y="261.45" width="2.60" height="0.85" fill="#2a2a2a" stroke="none" stroke-width="0"/>
<rect x="381.85" y="264.35" width="2.60" height="0.85" fill="#2a2a2a" stroke="none" stroke-width="0"/>
<rect x="381.85" y="267.25" width="2.60" height="0.85" fill="#2a2a2a" stroke="none" stroke-width="0"/>
<rect x="381.85" y="270.15" width="2.60" height="0.85" fill="#2a2a2a" stroke="none" stroke-width="0"/>
<rect x="381.85" y="273.05" width="2.60" height="0.85" fill="#2a2a2a" stroke="none" stroke-width="0"/>
</g>
<rect x="381.85" y="192.45" width="2.60" height="80.75" fill="none" stroke="#333" stroke-width="0.5"/>
<rect x="384.45" y="205.30" width="2.60" height="67.90" fill="url(#dense)" stroke="#333" stroke-width="0.45"/>
<rect x="387.05" y="213.56" width="2.60" height="59.64" fill="#111" stroke="#333" stroke-width="0.45"/>
<line x1="383.15" y1="273.20" x2="383.15" y2="276.00" stroke="#1a1a1a" stroke-width="0.85"/>
<text font-size="4.7" text-anchor="middle" font-weight="normal" fill="#1a1a1a" transform="translate(383.15 282.00) scale(1 1.001)" stroke="#1a1a1a" stroke-width="0.26">6</text>
<rect x="395.52" y="179.60" width="2.60" height="93.60" fill="#fff" stroke="#333" stroke-width="0.45"/>
<rect x="398.12" y="178.69" width="2.60" height="94.51" fill="#fff" stroke="none" stroke-width="0"/>
<clipPath id="c6_1"><rect x="398.12" y="178.69" width="2.60" height="94.51"/></clipPath><g clip-path="url(#c6_1)">
<line x1="397.92" y1="178.09" x2="400.92" y2="180.56" stroke="#111" stroke-width="0.8"/>
<line x1="397.92" y1="181.89" x2="400.92" y2="184.36" stroke="#111" stroke-width="0.8"/>
<line x1="397.92" y1="185.69" x2="400.92" y2="188.16" stroke="#111" stroke-width="0.8"/>
<line x1="397.92" y1="189.49" x2="400.92" y2="191.96" stroke="#111" stroke-width="0.8"/>
<line x1="397.92" y1="193.29" x2="400.92" y2="195.76" stroke="#111" stroke-width="0.8"/>
<line x1="397.92" y1="197.09" x2="400.92" y2="199.56" stroke="#111" stroke-width="0.8"/>
<line x1="397.92" y1="200.89" x2="400.92" y2="203.36" stroke="#111" stroke-width="0.8"/>
<line x1="397.92" y1="204.69" x2="400.92" y2="207.16" stroke="#111" stroke-width="0.8"/>
<line x1="397.92" y1="208.49" x2="400.92" y2="210.96" stroke="#111" stroke-width="0.8"/>
<line x1="397.92" y1="212.29" x2="400.92" y2="214.76" stroke="#111" stroke-width="0.8"/>
<line x1="397.92" y1="216.09" x2="400.92" y2="218.56" stroke="#111" stroke-width="0.8"/>
<line x1="397.92" y1="219.89" x2="400.92" y2="222.36" stroke="#111" stroke-width="0.8"/>
<line x1="397.92" y1="223.69" x2="400.92" y2="226.16" stroke="#111" stroke-width="0.8"/>
<line x1="397.92" y1="227.49" x2="400.92" y2="229.96" stroke="#111" stroke-width="0.8"/>
<line x1="397.92" y1="231.29" x2="400.92" y2="233.76" stroke="#111" stroke-width="0.8"/>
<line x1="397.92" y1="235.09" x2="400.92" y2="237.56" stroke="#111" stroke-width="0.8"/>
<line x1="397.92" y1="238.89" x2="400.92" y2="241.36" stroke="#111" stroke-width="0.8"/>
<line x1="397.92" y1="242.69" x2="400.92" y2="245.16" stroke="#111" stroke-width="0.8"/>
<line x1="397.92" y1="246.49" x2="400.92" y2="248.96" stroke="#111" stroke-width="0.8"/>
<line x1="397.92" y1="250.29" x2="400.92" y2="252.76" stroke="#111" stroke-width="0.8"/>
<line x1="397.92" y1="254.09" x2="400.92" y2="256.56" stroke="#111" stroke-width="0.8"/>
<line x1="397.92" y1="257.89" x2="400.92" y2="260.36" stroke="#111" stroke-width="0.8"/>
<line x1="397.92" y1="261.69" x2="400.92" y2="264.16" stroke="#111" stroke-width="0.8"/>
<line x1="397.92" y1="265.49" x2="400.92" y2="267.96" stroke="#111" stroke-width="0.8"/>
<line x1="397.92" y1="269.29" x2="400.92" y2="271.76" stroke="#111" stroke-width="0.8"/>
<line x1="397.92" y1="273.09" x2="400.92" y2="275.56" stroke="#111" stroke-width="0.8"/>
</g>
<rect x="398.12" y="178.69" width="2.60" height="94.51" fill="none" stroke="#333" stroke-width="0.5"/>
<rect x="400.72" y="182.36" width="2.60" height="90.84" fill="#fff" stroke="none" stroke-width="0"/>
<clipPath id="c6_2"><rect x="400.72" y="182.36" width="2.60" height="90.84"/></clipPath><g clip-path="url(#c6_2)">
<rect x="400.72" y="185.96" width="2.60" height="0.85" fill="#2a2a2a" stroke="none" stroke-width="0"/>
<rect x="400.72" y="188.86" width="2.60" height="0.85" fill="#2a2a2a" stroke="none" stroke-width="0"/>
<rect x="400.72" y="191.76" width="2.60" height="0.85" fill="#2a2a2a" stroke="none" stroke-width="0"/>
<rect x="400.72" y="194.66" width="2.60" height="0.85" fill="#2a2a2a" stroke="none" stroke-width="0"/>
<rect x="400.72" y="197.56" width="2.60" height="0.85" fill="#2a2a2a" stroke="none" stroke-width="0"/>
<rect x="400.72" y="200.46" width="2.60" height="0.85" fill="#2a2a2a" stroke="none" stroke-width="0"/>
<rect x="400.72" y="203.36" width="2.60" height="0.85" fill="#2a2a2a" stroke="none" stroke-width="0"/>
<rect x="400.72" y="206.26" width="2.60" height="0.85" fill="#2a2a2a" stroke="none" stroke-width="0"/>
<rect x="400.72" y="209.16" width="2.60" height="0.85" fill="#2a2a2a" stroke="none" stroke-width="0"/>
<rect x="400.72" y="212.06" width="2.60" height="0.85" fill="#2a2a2a" stroke="none" stroke-width="0"/>
<rect x="400.72" y="214.96" width="2.60" height="0.85" fill="#2a2a2a" stroke="none" stroke-width="0"/>
<rect x="400.72" y="217.86" width="2.60" height="0.85" fill="#2a2a2a" stroke="none" stroke-width="0"/>
<rect x="400.72" y="220.76" width="2.60" height="0.85" fill="#2a2a2a" stroke="none" stroke-width="0"/>
<rect x="400.72" y="223.66" width="2.60" height="0.85" fill="#2a2a2a" stroke="none" stroke-width="0"/>
<rect x="400.72" y="226.56" width="2.60" height="0.85" fill="#2a2a2a" stroke="none" stroke-width="0"/>
<rect x="400.72" y="229.46" width="2.60" height="0.85" fill="#2a2a2a" stroke="none" stroke-width="0"/>
<rect x="400.72" y="232.36" width="2.60" height="0.85" fill="#2a2a2a" stroke="none" stroke-width="0"/>
<rect x="400.72" y="235.26" width="2.60" height="0.85" fill="#2a2a2a" stroke="none" stroke-width="0"/>
<rect x="400.72" y="238.16" width="2.60" height="0.85" fill="#2a2a2a" stroke="none" stroke-width="0"/>
<rect x="400.72" y="241.06" width="2.60" height="0.85" fill="#2a2a2a" stroke="none" stroke-width="0"/>
<rect x="400.72" y="243.96" width="2.60" height="0.85" fill="#2a2a2a" stroke="none" stroke-width="0"/>
<rect x="400.72" y="246.86" width="2.60" height="0.85" fill="#2a2a2a" stroke="none" stroke-width="0"/>
<rect x="400.72" y="249.76" width="2.60" height="0.85" fill="#2a2a2a" stroke="none" stroke-width="0"/>
<rect x="400.72" y="252.66" width="2.60" height="0.85" fill="#2a2a2a" stroke="none" stroke-width="0"/>
<rect x="400.72" y="255.56" width="2.60" height="0.85" fill="#2a2a2a" stroke="none" stroke-width="0"/>
<rect x="400.72" y="258.46" width="2.60" height="0.85" fill="#2a2a2a" stroke="none" stroke-width="0"/>
<rect x="400.72" y="261.36" width="2.60" height="0.85" fill="#2a2a2a" stroke="none" stroke-width="0"/>
<rect x="400.72" y="264.26" width="2.60" height="0.85" fill="#2a2a2a" stroke="none" stroke-width="0"/>
<rect x="400.72" y="267.16" width="2.60" height="0.85" fill="#2a2a2a" stroke="none" stroke-width="0"/>
<rect x="400.72" y="270.06" width="2.60" height="0.85" fill="#2a2a2a" stroke="none" stroke-width="0"/>
<rect x="400.72" y="272.96" width="2.60" height="0.85" fill="#2a2a2a" stroke="none" stroke-width="0"/>
</g>
<rect x="400.72" y="182.36" width="2.60" height="90.84" fill="none" stroke="#333" stroke-width="0.5"/>
<rect x="403.32" y="187.86" width="2.60" height="85.34" fill="url(#dense)" stroke="#333" stroke-width="0.45"/>
<rect x="405.92" y="209.89" width="2.60" height="63.31" fill="#111" stroke="#333" stroke-width="0.45"/>
<line x1="399.42" y1="178.69" x2="399.42" y2="175.93" stroke="#444" stroke-width="0.5"/>
<line x1="398.62" y1="175.93" x2="400.22" y2="175.93" stroke="#444" stroke-width="0.5"/>
<line x1="402.02" y1="273.20" x2="402.02" y2="276.00" stroke="#1a1a1a" stroke-width="0.85"/>
<text font-size="4.7" text-anchor="middle" font-weight="normal" fill="#1a1a1a" transform="translate(402.02 282.00) scale(1 1.001)" stroke="#1a1a1a" stroke-width="0.26">7</text>
<rect x="414.39" y="181.44" width="2.60" height="91.76" fill="#fff" stroke="#333" stroke-width="0.45"/>
<rect x="416.99" y="172.26" width="2.60" height="100.94" fill="#fff" stroke="none" stroke-width="0"/>
<clipPath id="c7_1"><rect x="416.99" y="172.26" width="2.60" height="100.94"/></clipPath><g clip-path="url(#c7_1)">
<line x1="416.79" y1="172.36" x2="419.79" y2="174.83" stroke="#111" stroke-width="0.8"/>
<line x1="416.79" y1="176.16" x2="419.79" y2="178.63" stroke="#111" stroke-width="0.8"/>
<line x1="416.79" y1="179.96" x2="419.79" y2="182.43" stroke="#111" stroke-width="0.8"/>
<line x1="416.79" y1="183.76" x2="419.79" y2="186.23" stroke="#111" stroke-width="0.8"/>
<line x1="416.79" y1="187.56" x2="419.79" y2="190.03" stroke="#111" stroke-width="0.8"/>
<line x1="416.79" y1="191.36" x2="419.79" y2="193.83" stroke="#111" stroke-width="0.8"/>
<line x1="416.79" y1="195.16" x2="419.79" y2="197.63" stroke="#111" stroke-width="0.8"/>
<line x1="416.79" y1="198.96" x2="419.79" y2="201.43" stroke="#111" stroke-width="0.8"/>
<line x1="416.79" y1="202.76" x2="419.79" y2="205.23" stroke="#111" stroke-width="0.8"/>
<line x1="416.79" y1="206.56" x2="419.79" y2="209.03" stroke="#111" stroke-width="0.8"/>
<line x1="416.79" y1="210.36" x2="419.79" y2="212.83" stroke="#111" stroke-width="0.8"/>
<line x1="416.79" y1="214.16" x2="419.79" y2="216.63" stroke="#111" stroke-width="0.8"/>
<line x1="416.79" y1="217.96" x2="419.79" y2="220.43" stroke="#111" stroke-width="0.8"/>
<line x1="416.79" y1="221.76" x2="419.79" y2="224.23" stroke="#111" stroke-width="0.8"/>
<line x1="416.79" y1="225.56" x2="419.79" y2="228.03" stroke="#111" stroke-width="0.8"/>
<line x1="416.79" y1="229.36" x2="419.79" y2="231.83" stroke="#111" stroke-width="0.8"/>
<line x1="416.79" y1="233.16" x2="419.79" y2="235.63" stroke="#111" stroke-width="0.8"/>
<line x1="416.79" y1="236.96" x2="419.79" y2="239.43" stroke="#111" stroke-width="0.8"/>
<line x1="416.79" y1="240.76" x2="419.79" y2="243.23" stroke="#111" stroke-width="0.8"/>
<line x1="416.79" y1="244.56" x2="419.79" y2="247.03" stroke="#111" stroke-width="0.8"/>
<line x1="416.79" y1="248.36" x2="419.79" y2="250.83" stroke="#111" stroke-width="0.8"/>
<line x1="416.79" y1="252.16" x2="419.79" y2="254.63" stroke="#111" stroke-width="0.8"/>
<line x1="416.79" y1="255.96" x2="419.79" y2="258.43" stroke="#111" stroke-width="0.8"/>
<line x1="416.79" y1="259.76" x2="419.79" y2="262.23" stroke="#111" stroke-width="0.8"/>
<line x1="416.79" y1="263.56" x2="419.79" y2="266.03" stroke="#111" stroke-width="0.8"/>
<line x1="416.79" y1="267.36" x2="419.79" y2="269.83" stroke="#111" stroke-width="0.8"/>
<line x1="416.79" y1="271.16" x2="419.79" y2="273.63" stroke="#111" stroke-width="0.8"/>
</g>
<rect x="416.99" y="172.26" width="2.60" height="100.94" fill="none" stroke="#333" stroke-width="0.5"/>
<rect x="419.59" y="175.02" width="2.60" height="98.18" fill="#fff" stroke="none" stroke-width="0"/>
<clipPath id="c7_2"><rect x="419.59" y="175.02" width="2.60" height="98.18"/></clipPath><g clip-path="url(#c7_2)">
<rect x="419.59" y="177.02" width="2.60" height="0.85" fill="#2a2a2a" stroke="none" stroke-width="0"/>
<rect x="419.59" y="179.92" width="2.60" height="0.85" fill="#2a2a2a" stroke="none" stroke-width="0"/>
<rect x="419.59" y="182.82" width="2.60" height="0.85" fill="#2a2a2a" stroke="none" stroke-width="0"/>
<rect x="419.59" y="185.72" width="2.60" height="0.85" fill="#2a2a2a" stroke="none" stroke-width="0"/>
<rect x="419.59" y="188.62" width="2.60" height="0.85" fill="#2a2a2a" stroke="none" stroke-width="0"/>
<rect x="419.59" y="191.52" width="2.60" height="0.85" fill="#2a2a2a" stroke="none" stroke-width="0"/>
<rect x="419.59" y="194.42" width="2.60" height="0.85" fill="#2a2a2a" stroke="none" stroke-width="0"/>
<rect x="419.59" y="197.32" width="2.60" height="0.85" fill="#2a2a2a" stroke="none" stroke-width="0"/>
<rect x="419.59" y="200.22" width="2.60" height="0.85" fill="#2a2a2a" stroke="none" stroke-width="0"/>
<rect x="419.59" y="203.12" width="2.60" height="0.85" fill="#2a2a2a" stroke="none" stroke-width="0"/>
<rect x="419.59" y="206.02" width="2.60" height="0.85" fill="#2a2a2a" stroke="none" stroke-width="0"/>
<rect x="419.59" y="208.92" width="2.60" height="0.85" fill="#2a2a2a" stroke="none" stroke-width="0"/>
<rect x="419.59" y="211.82" width="2.60" height="0.85" fill="#2a2a2a" stroke="none" stroke-width="0"/>
<rect x="419.59" y="214.72" width="2.60" height="0.85" fill="#2a2a2a" stroke="none" stroke-width="0"/>
<rect x="419.59" y="217.62" width="2.60" height="0.85" fill="#2a2a2a" stroke="none" stroke-width="0"/>
<rect x="419.59" y="220.52" width="2.60" height="0.85" fill="#2a2a2a" stroke="none" stroke-width="0"/>
<rect x="419.59" y="223.42" width="2.60" height="0.85" fill="#2a2a2a" stroke="none" stroke-width="0"/>
<rect x="419.59" y="226.32" width="2.60" height="0.85" fill="#2a2a2a" stroke="none" stroke-width="0"/>
<rect x="419.59" y="229.22" width="2.60" height="0.85" fill="#2a2a2a" stroke="none" stroke-width="0"/>
<rect x="419.59" y="232.12" width="2.60" height="0.85" fill="#2a2a2a" stroke="none" stroke-width="0"/>
<rect x="419.59" y="235.02" width="2.60" height="0.85" fill="#2a2a2a" stroke="none" stroke-width="0"/>
<rect x="419.59" y="237.92" width="2.60" height="0.85" fill="#2a2a2a" stroke="none" stroke-width="0"/>
<rect x="419.59" y="240.82" width="2.60" height="0.85" fill="#2a2a2a" stroke="none" stroke-width="0"/>
<rect x="419.59" y="243.72" width="2.60" height="0.85" fill="#2a2a2a" stroke="none" stroke-width="0"/>
<rect x="419.59" y="246.62" width="2.60" height="0.85" fill="#2a2a2a" stroke="none" stroke-width="0"/>
<rect x="419.59" y="249.52" width="2.60" height="0.85" fill="#2a2a2a" stroke="none" stroke-width="0"/>
<rect x="419.59" y="252.42" width="2.60" height="0.85" fill="#2a2a2a" stroke="none" stroke-width="0"/>
<rect x="419.59" y="255.32" width="2.60" height="0.85" fill="#2a2a2a" stroke="none" stroke-width="0"/>
<rect x="419.59" y="258.22" width="2.60" height="0.85" fill="#2a2a2a" stroke="none" stroke-width="0"/>
<rect x="419.59" y="261.12" width="2.60" height="0.85" fill="#2a2a2a" stroke="none" stroke-width="0"/>
<rect x="419.59" y="264.02" width="2.60" height="0.85" fill="#2a2a2a" stroke="none" stroke-width="0"/>
<rect x="419.59" y="266.92" width="2.60" height="0.85" fill="#2a2a2a" stroke="none" stroke-width="0"/>
<rect x="419.59" y="269.82" width="2.60" height="0.85" fill="#2a2a2a" stroke="none" stroke-width="0"/>
<rect x="419.59" y="272.72" width="2.60" height="0.85" fill="#2a2a2a" stroke="none" stroke-width="0"/>
</g>
<rect x="419.59" y="175.02" width="2.60" height="98.18" fill="none" stroke="#333" stroke-width="0.5"/>
<rect x="422.19" y="179.60" width="2.60" height="93.60" fill="url(#dense)" stroke="#333" stroke-width="0.45"/>
<rect x="424.79" y="218.14" width="2.60" height="55.06" fill="#111" stroke="#333" stroke-width="0.45"/>
<line x1="418.29" y1="172.26" x2="418.29" y2="164.92" stroke="#444" stroke-width="0.5"/>
<line x1="417.49" y1="164.92" x2="419.09" y2="164.92" stroke="#444" stroke-width="0.5"/>
<line x1="420.89" y1="175.02" x2="420.89" y2="165.84" stroke="#444" stroke-width="0.5"/>
<line x1="420.09" y1="165.84" x2="421.69" y2="165.84" stroke="#444" stroke-width="0.5"/>
<line x1="420.89" y1="273.20" x2="420.89" y2="276.00" stroke="#1a1a1a" stroke-width="0.85"/>
<text font-size="4.7" text-anchor="middle" font-weight="normal" fill="#1a1a1a" transform="translate(420.89 282.00) scale(1 1.001)" stroke="#1a1a1a" stroke-width="0.26">8</text>
<rect x="433.26" y="181.44" width="2.60" height="91.76" fill="#fff" stroke="#333" stroke-width="0.45"/>
<rect x="435.86" y="186.95" width="2.60" height="86.25" fill="#fff" stroke="none" stroke-width="0"/>
<clipPath id="c8_1"><rect x="435.86" y="186.95" width="2.60" height="86.25"/></clipPath><g clip-path="url(#c8_1)">
<line x1="435.66" y1="187.75" x2="438.66" y2="190.22" stroke="#111" stroke-width="0.8"/>
<line x1="435.66" y1="191.55" x2="438.66" y2="194.02" stroke="#111" stroke-width="0.8"/>
<line x1="435.66" y1="195.35" x2="438.66" y2="197.82" stroke="#111" stroke-width="0.8"/>
<line x1="435.66" y1="199.15" x2="438.66" y2="201.62" stroke="#111" stroke-width="0.8"/>
<line x1="435.66" y1="202.95" x2="438.66" y2="205.42" stroke="#111" stroke-width="0.8"/>
<line x1="435.66" y1="206.75" x2="438.66" y2="209.22" stroke="#111" stroke-width="0.8"/>
<line x1="435.66" y1="210.55" x2="438.66" y2="213.02" stroke="#111" stroke-width="0.8"/>
<line x1="435.66" y1="214.35" x2="438.66" y2="216.82" stroke="#111" stroke-width="0.8"/>
<line x1="435.66" y1="218.15" x2="438.66" y2="220.62" stroke="#111" stroke-width="0.8"/>
<line x1="435.66" y1="221.95" x2="438.66" y2="224.42" stroke="#111" stroke-width="0.8"/>
<line x1="435.66" y1="225.75" x2="438.66" y2="228.22" stroke="#111" stroke-width="0.8"/>
<line x1="435.66" y1="229.55" x2="438.66" y2="232.02" stroke="#111" stroke-width="0.8"/>
<line x1="435.66" y1="233.35" x2="438.66" y2="235.82" stroke="#111" stroke-width="0.8"/>
<line x1="435.66" y1="237.15" x2="438.66" y2="239.62" stroke="#111" stroke-width="0.8"/>
<line x1="435.66" y1="240.95" x2="438.66" y2="243.42" stroke="#111" stroke-width="0.8"/>
<line x1="435.66" y1="244.75" x2="438.66" y2="247.22" stroke="#111" stroke-width="0.8"/>
<line x1="435.66" y1="248.55" x2="438.66" y2="251.02" stroke="#111" stroke-width="0.8"/>
<line x1="435.66" y1="252.35" x2="438.66" y2="254.82" stroke="#111" stroke-width="0.8"/>
<line x1="435.66" y1="256.15" x2="438.66" y2="258.62" stroke="#111" stroke-width="0.8"/>
<line x1="435.66" y1="259.95" x2="438.66" y2="262.42" stroke="#111" stroke-width="0.8"/>
<line x1="435.66" y1="263.75" x2="438.66" y2="266.22" stroke="#111" stroke-width="0.8"/>
<line x1="435.66" y1="267.55" x2="438.66" y2="270.02" stroke="#111" stroke-width="0.8"/>
<line x1="435.66" y1="271.35" x2="438.66" y2="273.82" stroke="#111" stroke-width="0.8"/>
</g>
<rect x="435.86" y="186.95" width="2.60" height="86.25" fill="none" stroke="#333" stroke-width="0.5"/>
<rect x="438.46" y="186.03" width="2.60" height="87.17" fill="#fff" stroke="none" stroke-width="0"/>
<clipPath id="c8_2"><rect x="438.46" y="186.03" width="2.60" height="87.17"/></clipPath><g clip-path="url(#c8_2)">
<rect x="438.46" y="189.33" width="2.60" height="0.85" fill="#2a2a2a" stroke="none" stroke-width="0"/>
<rect x="438.46" y="192.23" width="2.60" height="0.85" fill="#2a2a2a" stroke="none" stroke-width="0"/>
<rect x="438.46" y="195.13" width="2.60" height="0.85" fill="#2a2a2a" stroke="none" stroke-width="0"/>
<rect x="438.46" y="198.03" width="2.60" height="0.85" fill="#2a2a2a" stroke="none" stroke-width="0"/>
<rect x="438.46" y="200.93" width="2.60" height="0.85" fill="#2a2a2a" stroke="none" stroke-width="0"/>
<rect x="438.46" y="203.83" width="2.60" height="0.85" fill="#2a2a2a" stroke="none" stroke-width="0"/>
<rect x="438.46" y="206.73" width="2.60" height="0.85" fill="#2a2a2a" stroke="none" stroke-width="0"/>
<rect x="438.46" y="209.63" width="2.60" height="0.85" fill="#2a2a2a" stroke="none" stroke-width="0"/>
<rect x="438.46" y="212.53" width="2.60" height="0.85" fill="#2a2a2a" stroke="none" stroke-width="0"/>
<rect x="438.46" y="215.43" width="2.60" height="0.85" fill="#2a2a2a" stroke="none" stroke-width="0"/>
<rect x="438.46" y="218.33" width="2.60" height="0.85" fill="#2a2a2a" stroke="none" stroke-width="0"/>
<rect x="438.46" y="221.23" width="2.60" height="0.85" fill="#2a2a2a" stroke="none" stroke-width="0"/>
<rect x="438.46" y="224.13" width="2.60" height="0.85" fill="#2a2a2a" stroke="none" stroke-width="0"/>
<rect x="438.46" y="227.03" width="2.60" height="0.85" fill="#2a2a2a" stroke="none" stroke-width="0"/>
<rect x="438.46" y="229.93" width="2.60" height="0.85" fill="#2a2a2a" stroke="none" stroke-width="0"/>
<rect x="438.46" y="232.83" width="2.60" height="0.85" fill="#2a2a2a" stroke="none" stroke-width="0"/>
<rect x="438.46" y="235.73" width="2.60" height="0.85" fill="#2a2a2a" stroke="none" stroke-width="0"/>
<rect x="438.46" y="238.63" width="2.60" height="0.85" fill="#2a2a2a" stroke="none" stroke-width="0"/>
<rect x="438.46" y="241.53" width="2.60" height="0.85" fill="#2a2a2a" stroke="none" stroke-width="0"/>
<rect x="438.46" y="244.43" width="2.60" height="0.85" fill="#2a2a2a" stroke="none" stroke-width="0"/>
<rect x="438.46" y="247.33" width="2.60" height="0.85" fill="#2a2a2a" stroke="none" stroke-width="0"/>
<rect x="438.46" y="250.23" width="2.60" height="0.85" fill="#2a2a2a" stroke="none" stroke-width="0"/>
<rect x="438.46" y="253.13" width="2.60" height="0.85" fill="#2a2a2a" stroke="none" stroke-width="0"/>
<rect x="438.46" y="256.03" width="2.60" height="0.85" fill="#2a2a2a" stroke="none" stroke-width="0"/>
<rect x="438.46" y="258.93" width="2.60" height="0.85" fill="#2a2a2a" stroke="none" stroke-width="0"/>
<rect x="438.46" y="261.83" width="2.60" height="0.85" fill="#2a2a2a" stroke="none" stroke-width="0"/>
<rect x="438.46" y="264.73" width="2.60" height="0.85" fill="#2a2a2a" stroke="none" stroke-width="0"/>
<rect x="438.46" y="267.63" width="2.60" height="0.85" fill="#2a2a2a" stroke="none" stroke-width="0"/>
<rect x="438.46" y="270.53" width="2.60" height="0.85" fill="#2a2a2a" stroke="none" stroke-width="0"/>
</g>
<rect x="438.46" y="186.03" width="2.60" height="87.17" fill="none" stroke="#333" stroke-width="0.5"/>
<rect x="441.06" y="187.86" width="2.60" height="85.34" fill="url(#dense)" stroke="#333" stroke-width="0.45"/>
<rect x="443.66" y="241.08" width="2.60" height="32.12" fill="#111" stroke="#333" stroke-width="0.45"/>
<line x1="434.56" y1="181.44" x2="434.56" y2="170.43" stroke="#444" stroke-width="0.5"/>
<line x1="433.76" y1="170.43" x2="435.36" y2="170.43" stroke="#444" stroke-width="0.5"/>
<line x1="439.76" y1="273.20" x2="439.76" y2="276.00" stroke="#1a1a1a" stroke-width="0.85"/>
<text font-size="4.7" text-anchor="middle" font-weight="normal" fill="#1a1a1a" transform="translate(439.76 282.00) scale(1 1.001)" stroke="#1a1a1a" stroke-width="0.26">9</text>
<rect x="452.13" y="181.44" width="2.60" height="91.76" fill="#fff" stroke="#333" stroke-width="0.45"/>
<rect x="454.73" y="176.85" width="2.60" height="96.35" fill="#fff" stroke="none" stroke-width="0"/>
<clipPath id="c9_1"><rect x="454.73" y="176.85" width="2.60" height="96.35"/></clipPath><g clip-path="url(#c9_1)">
<line x1="454.53" y1="178.35" x2="457.53" y2="180.82" stroke="#111" stroke-width="0.8"/>
<line x1="454.53" y1="182.15" x2="457.53" y2="184.62" stroke="#111" stroke-width="0.8"/>
<line x1="454.53" y1="185.95" x2="457.53" y2="188.42" stroke="#111" stroke-width="0.8"/>
<line x1="454.53" y1="189.75" x2="457.53" y2="192.22" stroke="#111" stroke-width="0.8"/>
<line x1="454.53" y1="193.55" x2="457.53" y2="196.02" stroke="#111" stroke-width="0.8"/>
<line x1="454.53" y1="197.35" x2="457.53" y2="199.82" stroke="#111" stroke-width="0.8"/>
<line x1="454.53" y1="201.15" x2="457.53" y2="203.62" stroke="#111" stroke-width="0.8"/>
<line x1="454.53" y1="204.95" x2="457.53" y2="207.42" stroke="#111" stroke-width="0.8"/>
<line x1="454.53" y1="208.75" x2="457.53" y2="211.22" stroke="#111" stroke-width="0.8"/>
<line x1="454.53" y1="212.55" x2="457.53" y2="215.02" stroke="#111" stroke-width="0.8"/>
<line x1="454.53" y1="216.35" x2="457.53" y2="218.82" stroke="#111" stroke-width="0.8"/>
<line x1="454.53" y1="220.15" x2="457.53" y2="222.62" stroke="#111" stroke-width="0.8"/>
<line x1="454.53" y1="223.95" x2="457.53" y2="226.42" stroke="#111" stroke-width="0.8"/>
<line x1="454.53" y1="227.75" x2="457.53" y2="230.22" stroke="#111" stroke-width="0.8"/>
<line x1="454.53" y1="231.55" x2="457.53" y2="234.02" stroke="#111" stroke-width="0.8"/>
<line x1="454.53" y1="235.35" x2="457.53" y2="237.82" stroke="#111" stroke-width="0.8"/>
<line x1="454.53" y1="239.15" x2="457.53" y2="241.62" stroke="#111" stroke-width="0.8"/>
<line x1="454.53" y1="242.95" x2="457.53" y2="245.42" stroke="#111" stroke-width="0.8"/>
<line x1="454.53" y1="246.75" x2="457.53" y2="249.22" stroke="#111" stroke-width="0.8"/>
<line x1="454.53" y1="250.55" x2="457.53" y2="253.02" stroke="#111" stroke-width="0.8"/>
<line x1="454.53" y1="254.35" x2="457.53" y2="256.82" stroke="#111" stroke-width="0.8"/>
<line x1="454.53" y1="258.15" x2="457.53" y2="260.62" stroke="#111" stroke-width="0.8"/>
<line x1="454.53" y1="261.95" x2="457.53" y2="264.42" stroke="#111" stroke-width="0.8"/>
<line x1="454.53" y1="265.75" x2="457.53" y2="268.22" stroke="#111" stroke-width="0.8"/>
<line x1="454.53" y1="269.55" x2="457.53" y2="272.02" stroke="#111" stroke-width="0.8"/>
</g>
<rect x="454.73" y="176.85" width="2.60" height="96.35" fill="none" stroke="#333" stroke-width="0.5"/>
<rect x="457.33" y="179.60" width="2.60" height="93.60" fill="#fff" stroke="none" stroke-width="0"/>
<clipPath id="c9_2"><rect x="457.33" y="179.60" width="2.60" height="93.60"/></clipPath><g clip-path="url(#c9_2)">
<rect x="457.33" y="181.30" width="2.60" height="0.85" fill="#2a2a2a" stroke="none" stroke-width="0"/>
<rect x="457.33" y="184.20" width="2.60" height="0.85" fill="#2a2a2a" stroke="none" stroke-width="0"/>
<rect x="457.33" y="187.10" width="2.60" height="0.85" fill="#2a2a2a" stroke="none" stroke-width="0"/>
<rect x="457.33" y="190.00" width="2.60" height="0.85" fill="#2a2a2a" stroke="none" stroke-width="0"/>
<rect x="457.33" y="192.90" width="2.60" height="0.85" fill="#2a2a2a" stroke="none" stroke-width="0"/>
<rect x="457.33" y="195.80" width="2.60" height="0.85" fill="#2a2a2a" stroke="none" stroke-width="0"/>
<rect x="457.33" y="198.70" width="2.60" height="0.85" fill="#2a2a2a" stroke="none" stroke-width="0"/>
<rect x="457.33" y="201.60" width="2.60" height="0.85" fill="#2a2a2a" stroke="none" stroke-width="0"/>
<rect x="457.33" y="204.50" width="2.60" height="0.85" fill="#2a2a2a" stroke="none" stroke-width="0"/>
<rect x="457.33" y="207.40" width="2.60" height="0.85" fill="#2a2a2a" stroke="none" stroke-width="0"/>
<rect x="457.33" y="210.30" width="2.60" height="0.85" fill="#2a2a2a" stroke="none" stroke-width="0"/>
<rect x="457.33" y="213.20" width="2.60" height="0.85" fill="#2a2a2a" stroke="none" stroke-width="0"/>
<rect x="457.33" y="216.10" width="2.60" height="0.85" fill="#2a2a2a" stroke="none" stroke-width="0"/>
<rect x="457.33" y="219.00" width="2.60" height="0.85" fill="#2a2a2a" stroke="none" stroke-width="0"/>
<rect x="457.33" y="221.90" width="2.60" height="0.85" fill="#2a2a2a" stroke="none" stroke-width="0"/>
<rect x="457.33" y="224.80" width="2.60" height="0.85" fill="#2a2a2a" stroke="none" stroke-width="0"/>
<rect x="457.33" y="227.70" width="2.60" height="0.85" fill="#2a2a2a" stroke="none" stroke-width="0"/>
<rect x="457.33" y="230.60" width="2.60" height="0.85" fill="#2a2a2a" stroke="none" stroke-width="0"/>
<rect x="457.33" y="233.50" width="2.60" height="0.85" fill="#2a2a2a" stroke="none" stroke-width="0"/>
<rect x="457.33" y="236.40" width="2.60" height="0.85" fill="#2a2a2a" stroke="none" stroke-width="0"/>
<rect x="457.33" y="239.30" width="2.60" height="0.85" fill="#2a2a2a" stroke="none" stroke-width="0"/>
<rect x="457.33" y="242.20" width="2.60" height="0.85" fill="#2a2a2a" stroke="none" stroke-width="0"/>
<rect x="457.33" y="245.10" width="2.60" height="0.85" fill="#2a2a2a" stroke="none" stroke-width="0"/>
<rect x="457.33" y="248.00" width="2.60" height="0.85" fill="#2a2a2a" stroke="none" stroke-width="0"/>
<rect x="457.33" y="250.90" width="2.60" height="0.85" fill="#2a2a2a" stroke="none" stroke-width="0"/>
<rect x="457.33" y="253.80" width="2.60" height="0.85" fill="#2a2a2a" stroke="none" stroke-width="0"/>
<rect x="457.33" y="256.70" width="2.60" height="0.85" fill="#2a2a2a" stroke="none" stroke-width="0"/>
<rect x="457.33" y="259.60" width="2.60" height="0.85" fill="#2a2a2a" stroke="none" stroke-width="0"/>
<rect x="457.33" y="262.50" width="2.60" height="0.85" fill="#2a2a2a" stroke="none" stroke-width="0"/>
<rect x="457.33" y="265.40" width="2.60" height="0.85" fill="#2a2a2a" stroke="none" stroke-width="0"/>
<rect x="457.33" y="268.30" width="2.60" height="0.85" fill="#2a2a2a" stroke="none" stroke-width="0"/>
<rect x="457.33" y="271.20" width="2.60" height="0.85" fill="#2a2a2a" stroke="none" stroke-width="0"/>
</g>
<rect x="457.33" y="179.60" width="2.60" height="93.60" fill="none" stroke="#333" stroke-width="0.5"/>
<rect x="459.93" y="197.04" width="2.60" height="76.16" fill="url(#dense)" stroke="#333" stroke-width="0.45"/>
<rect x="462.53" y="228.24" width="2.60" height="44.96" fill="#111" stroke="#333" stroke-width="0.45"/>
<line x1="456.03" y1="176.85" x2="456.03" y2="173.18" stroke="#444" stroke-width="0.5"/>
<line x1="455.23" y1="173.18" x2="456.83" y2="173.18" stroke="#444" stroke-width="0.5"/>
<line x1="458.63" y1="273.20" x2="458.63" y2="276.00" stroke="#1a1a1a" stroke-width="0.85"/>
<text font-size="4.7" text-anchor="middle" font-weight="normal" fill="#1a1a1a" transform="translate(458.63 282.00) scale(1 1.001)" stroke="#1a1a1a" stroke-width="0.26">10</text>
<rect x="477.30" y="184.30" width="6.00" height="6.00" fill="#fff" stroke="#333" stroke-width="0.7"/>
<text font-size="5.7" text-anchor="start" font-weight="normal" fill="#1a1a1a" transform="translate(489.20 189.00) scale(1 1.001)" stroke="#1a1a1a" stroke-width="0.26">Control</text>
<rect x="477.30" y="198.05" width="6.00" height="6.00" fill="#fff" stroke="#333" stroke-width="0.7"/>
<line x1="477.90" y1="198.65" x2="482.90" y2="203.65" stroke="#111" stroke-width="1.0"/>
<text font-size="5.7" text-anchor="start" font-weight="normal" fill="#1a1a1a" transform="translate(489.20 202.75) scale(1 1.001)" stroke="#1a1a1a" stroke-width="0.26">PPP 0.1 µM</text>
<rect x="477.30" y="211.80" width="6.00" height="6.00" fill="#fff" stroke="#333" stroke-width="0.7"/>
<circle cx="481.50" cy="213.60" r="0.55" fill="#333"/>
<circle cx="479.30" cy="215.80" r="0.55" fill="#333"/>
<circle cx="481.60" cy="216.20" r="0.45" fill="#555"/>
<text font-size="5.7" text-anchor="start" font-weight="normal" fill="#1a1a1a" transform="translate(489.20 216.50) scale(1 1.001)" stroke="#1a1a1a" stroke-width="0.26">PPP 0.2 µM</text>
<rect x="477.30" y="225.55" width="6.00" height="6.00" fill="url(#dense)" stroke="#333" stroke-width="0.7"/>
<text font-size="5.7" text-anchor="start" font-weight="normal" fill="#1a1a1a" transform="translate(489.20 230.25) scale(1 1.001)" stroke="#1a1a1a" stroke-width="0.26">PPP 0.5 µM</text>
<rect x="477.30" y="239.30" width="6.00" height="6.00" fill="#111" stroke="#333" stroke-width="0.7"/>
<text font-size="5.7" text-anchor="start" font-weight="normal" fill="#1a1a1a" transform="translate(489.20 244.00) scale(1 1.001)" stroke="#1a1a1a" stroke-width="0.26">PPP 1 µM</text>
<text font-size="12.4" text-anchor="start" font-weight="bold" fill="#0a0a0a" transform="translate(2.60 317.60) scale(1 1.001)" stroke="#0a0a0a" stroke-width="0.45">E</text>
<line x1="25.10" y1="326.20" x2="140.00" y2="326.20" stroke="#4a4a4a" stroke-width="1.0"/>
<line x1="140.00" y1="325.70" x2="140.00" y2="440.50" stroke="#4a4a4a" stroke-width="1.05"/>
<line x1="25.10" y1="325.80" x2="25.10" y2="440.90" stroke="#2a2a2a" stroke-width="0.9"/>
<line x1="24.70" y1="440.50" x2="140.00" y2="440.50" stroke="#2a2a2a" stroke-width="0.9"/>
<line x1="22.20" y1="440.50" x2="25.10" y2="440.50" stroke="#1a1a1a" stroke-width="0.85"/>
<text font-size="4.6" text-anchor="end" font-weight="normal" fill="#1a1a1a" transform="translate(19.50 441.40) scale(1 1.001)" stroke="#1a1a1a" stroke-width="0.26">0</text>
<line x1="22.20" y1="421.45" x2="25.10" y2="421.45" stroke="#1a1a1a" stroke-width="0.85"/>
<text font-size="4.6" text-anchor="end" font-weight="normal" fill="#1a1a1a" transform="translate(19.50 422.35) scale(1 1.001)" stroke="#1a1a1a" stroke-width="0.26">25</text>
<line x1="22.20" y1="402.40" x2="25.10" y2="402.40" stroke="#1a1a1a" stroke-width="0.85"/>
<text font-size="4.6" text-anchor="end" font-weight="normal" fill="#1a1a1a" transform="translate(19.50 403.30) scale(1 1.001)" stroke="#1a1a1a" stroke-width="0.26">50</text>
<line x1="22.20" y1="383.35" x2="25.10" y2="383.35" stroke="#1a1a1a" stroke-width="0.85"/>
<text font-size="4.6" text-anchor="end" font-weight="normal" fill="#1a1a1a" transform="translate(19.50 384.25) scale(1 1.001)" stroke="#1a1a1a" stroke-width="0.26">75</text>
<line x1="22.20" y1="364.30" x2="25.10" y2="364.30" stroke="#1a1a1a" stroke-width="0.85"/>
<text font-size="4.6" text-anchor="end" font-weight="normal" fill="#1a1a1a" transform="translate(19.50 365.20) scale(1 1.001)" stroke="#1a1a1a" stroke-width="0.26">100</text>
<line x1="22.20" y1="345.25" x2="25.10" y2="345.25" stroke="#1a1a1a" stroke-width="0.85"/>
<text font-size="4.6" text-anchor="end" font-weight="normal" fill="#1a1a1a" transform="translate(19.50 346.15) scale(1 1.001)" stroke="#1a1a1a" stroke-width="0.26">125</text>
<line x1="22.20" y1="326.20" x2="25.10" y2="326.20" stroke="#1a1a1a" stroke-width="0.85"/>
<text font-size="4.6" text-anchor="end" font-weight="normal" fill="#1a1a1a" transform="translate(19.50 327.10) scale(1 1.001)" stroke="#1a1a1a" stroke-width="0.26">150</text>
<text font-size="5.7" text-anchor="middle" font-weight="normal" fill="#1a1a1a" transform="translate(6.60 382.30) rotate(-90) scale(1 1.001)" stroke="#1a1a1a" stroke-width="0.18" xml:space="preserve">Relative 3H-TdR incorporation  (%)</text>
<rect x="28.40" y="364.30" width="12.75" height="76.20" fill="#fff" stroke="#222" stroke-width="0.7"/>
<line x1="34.77" y1="364.30" x2="34.77" y2="343.34" stroke="#333" stroke-width="0.6"/>
<line x1="32.77" y1="343.34" x2="36.77" y2="343.34" stroke="#333" stroke-width="0.8"/>
<rect x="41.15" y="364.30" width="12.75" height="76.20" fill="url(#edots)" stroke="#222" stroke-width="0.7"/>
<line x1="47.52" y1="364.30" x2="47.52" y2="329.25" stroke="#333" stroke-width="0.6"/>
<line x1="45.52" y1="329.25" x2="49.52" y2="329.25" stroke="#333" stroke-width="0.8"/>
<rect x="53.90" y="364.30" width="12.75" height="76.20" fill="#666" stroke="#222" stroke-width="0.7"/>
<line x1="60.27" y1="364.30" x2="60.27" y2="354.39" stroke="#333" stroke-width="0.6"/>
<line x1="58.27" y1="354.39" x2="62.27" y2="354.39" stroke="#333" stroke-width="0.8"/>
<rect x="66.65" y="364.30" width="12.75" height="76.20" fill="#050505" stroke="#222" stroke-width="0.7"/>
<line x1="73.03" y1="364.30" x2="73.03" y2="361.25" stroke="#333" stroke-width="0.6"/>
<line x1="71.03" y1="361.25" x2="75.03" y2="361.25" stroke="#333" stroke-width="0.8"/>
<line x1="53.90" y1="440.50" x2="53.90" y2="443.90" stroke="#1a1a1a" stroke-width="0.85"/>
<rect x="85.50" y="432.50" width="12.75" height="8.00" fill="#fff" stroke="#222" stroke-width="0.7"/>
<rect x="98.25" y="437.07" width="12.75" height="3.43" fill="url(#edots)" stroke="#222" stroke-width="0.7"/>
<rect x="111.00" y="435.17" width="12.75" height="5.33" fill="#666" stroke="#222" stroke-width="0.7"/>
<line x1="117.38" y1="435.17" x2="117.38" y2="431.74" stroke="#333" stroke-width="0.6"/>
<line x1="115.38" y1="431.74" x2="119.38" y2="431.74" stroke="#333" stroke-width="0.8"/>
<line x1="111.00" y1="440.50" x2="111.00" y2="443.90" stroke="#1a1a1a" stroke-width="0.85"/>
<text font-size="5.7" text-anchor="middle" font-weight="normal" fill="#1a1a1a" transform="translate(52.60 450.00) scale(1 1.001)" stroke="#1a1a1a" stroke-width="0.26">Control</text>
<text font-size="5.7" text-anchor="middle" font-weight="normal" fill="#1a1a1a" transform="translate(110.60 449.90) scale(1 1.001)" stroke="#1a1a1a" stroke-width="0.26">PPP 1 µM</text>
<rect x="149.60" y="359.60" width="5.40" height="5.40" fill="#fff" stroke="#222" stroke-width="0.6"/>
<text font-size="5.7" text-anchor="start" font-weight="normal" fill="#1a1a1a" transform="translate(161.10 364.10) scale(1 1.001)" stroke="#1a1a1a" stroke-width="0.26">Patient 5</text>
<rect x="149.60" y="373.20" width="5.40" height="5.40" fill="url(#edots)" stroke="#222" stroke-width="0.6"/>
<text font-size="5.7" text-anchor="start" font-weight="normal" fill="#1a1a1a" transform="translate(161.10 377.70) scale(1 1.001)" stroke="#1a1a1a" stroke-width="0.26">Patient 8</text>
<rect x="149.60" y="386.80" width="5.40" height="5.40" fill="#666" stroke="#222" stroke-width="0.6"/>
<text font-size="5.7" text-anchor="start" font-weight="normal" fill="#1a1a1a" transform="translate(161.10 391.30) scale(1 1.001)" stroke="#1a1a1a" stroke-width="0.26">Patient 9</text>
<rect x="149.60" y="400.40" width="5.40" height="5.40" fill="#050505" stroke="#222" stroke-width="0.6"/>
<text font-size="5.7" text-anchor="start" font-weight="normal" fill="#1a1a1a" transform="translate(161.10 404.90) scale(1 1.001)" stroke="#1a1a1a" stroke-width="0.26">Patient 10</text>
<text font-size="12.4" text-anchor="start" font-weight="bold" fill="#0a0a0a" transform="translate(201.30 317.50) scale(1 1.001)" stroke="#0a0a0a" stroke-width="0.45">F</text>
<line x1="224.40" y1="326.90" x2="339.40" y2="326.90" stroke="#4a4a4a" stroke-width="1.0"/>
<line x1="339.40" y1="326.40" x2="339.40" y2="441.10" stroke="#4a4a4a" stroke-width="1.05"/>
<line x1="224.40" y1="326.50" x2="224.40" y2="441.50" stroke="#2a2a2a" stroke-width="0.9"/>
<line x1="224.00" y1="441.10" x2="339.40" y2="441.10" stroke="#2a2a2a" stroke-width="0.9"/>
<line x1="221.50" y1="441.10" x2="224.40" y2="441.10" stroke="#1a1a1a" stroke-width="0.85"/>
<text font-size="4.6" text-anchor="end" font-weight="normal" fill="#1a1a1a" transform="translate(219.30 442.00) scale(1 1.001)" stroke="#1a1a1a" stroke-width="0.26">0</text>
<line x1="221.50" y1="418.26" x2="224.40" y2="418.26" stroke="#1a1a1a" stroke-width="0.85"/>
<text font-size="4.6" text-anchor="end" font-weight="normal" fill="#1a1a1a" transform="translate(219.30 419.16) scale(1 1.001)" stroke="#1a1a1a" stroke-width="0.26">25</text>
<line x1="221.50" y1="395.42" x2="224.40" y2="395.42" stroke="#1a1a1a" stroke-width="0.85"/>
<text font-size="4.6" text-anchor="end" font-weight="normal" fill="#1a1a1a" transform="translate(219.30 396.32) scale(1 1.001)" stroke="#1a1a1a" stroke-width="0.26">50</text>
<line x1="221.50" y1="372.58" x2="224.40" y2="372.58" stroke="#1a1a1a" stroke-width="0.85"/>
<text font-size="4.6" text-anchor="end" font-weight="normal" fill="#1a1a1a" transform="translate(219.30 373.48) scale(1 1.001)" stroke="#1a1a1a" stroke-width="0.26">75</text>
<line x1="221.50" y1="349.74" x2="224.40" y2="349.74" stroke="#1a1a1a" stroke-width="0.85"/>
<text font-size="4.6" text-anchor="end" font-weight="normal" fill="#1a1a1a" transform="translate(219.30 350.64) scale(1 1.001)" stroke="#1a1a1a" stroke-width="0.26">100</text>
<line x1="221.50" y1="326.90" x2="224.40" y2="326.90" stroke="#1a1a1a" stroke-width="0.85"/>
<text font-size="4.6" text-anchor="end" font-weight="normal" fill="#1a1a1a" transform="translate(219.30 327.80) scale(1 1.001)" stroke="#1a1a1a" stroke-width="0.26">125</text>
<line x1="231.10" y1="441.10" x2="231.10" y2="444.30" stroke="#1a1a1a" stroke-width="0.85"/>
<text font-size="4.7" text-anchor="middle" font-weight="normal" fill="#1a1a1a" transform="translate(230.60 449.60) scale(1 1.001)" stroke="#1a1a1a" stroke-width="0.26">0</text>
<line x1="243.85" y1="441.10" x2="243.85" y2="444.30" stroke="#1a1a1a" stroke-width="0.85"/>
<text font-size="4.7" text-anchor="middle" font-weight="normal" fill="#1a1a1a" transform="translate(243.35 449.60) scale(1 1.001)" stroke="#1a1a1a" stroke-width="0.26">0.01</text>
<line x1="256.60" y1="441.10" x2="256.60" y2="444.30" stroke="#1a1a1a" stroke-width="0.85"/>
<text font-size="4.7" text-anchor="middle" font-weight="normal" fill="#1a1a1a" transform="translate(256.10 449.60) scale(1 1.001)" stroke="#1a1a1a" stroke-width="0.26">0.02</text>
<line x1="269.35" y1="441.10" x2="269.35" y2="444.30" stroke="#1a1a1a" stroke-width="0.85"/>
<text font-size="4.7" text-anchor="middle" font-weight="normal" fill="#1a1a1a" transform="translate(268.85 449.60) scale(1 1.001)" stroke="#1a1a1a" stroke-width="0.26">0.05</text>
<line x1="282.10" y1="441.10" x2="282.10" y2="444.30" stroke="#1a1a1a" stroke-width="0.85"/>
<text font-size="4.7" text-anchor="middle" font-weight="normal" fill="#1a1a1a" transform="translate(281.60 449.60) scale(1 1.001)" stroke="#1a1a1a" stroke-width="0.26">0.1</text>
<line x1="294.85" y1="441.10" x2="294.85" y2="444.30" stroke="#1a1a1a" stroke-width="0.85"/>
<text font-size="4.7" text-anchor="middle" font-weight="normal" fill="#1a1a1a" transform="translate(294.35 449.60) scale(1 1.001)" stroke="#1a1a1a" stroke-width="0.26">0.2</text>
<line x1="307.60" y1="441.10" x2="307.60" y2="444.30" stroke="#1a1a1a" stroke-width="0.85"/>
<text font-size="4.7" text-anchor="middle" font-weight="normal" fill="#1a1a1a" transform="translate(307.10 449.60) scale(1 1.001)" stroke="#1a1a1a" stroke-width="0.26">0.5</text>
<line x1="320.35" y1="441.10" x2="320.35" y2="444.30" stroke="#1a1a1a" stroke-width="0.85"/>
<text font-size="4.7" text-anchor="middle" font-weight="normal" fill="#1a1a1a" transform="translate(319.85 449.60) scale(1 1.001)" stroke="#1a1a1a" stroke-width="0.26">1</text>
<line x1="333.10" y1="441.10" x2="333.10" y2="444.30" stroke="#1a1a1a" stroke-width="0.85"/>
<text font-size="4.7" text-anchor="middle" font-weight="normal" fill="#1a1a1a" transform="translate(332.60 449.60) scale(1 1.001)" stroke="#1a1a1a" stroke-width="0.26">2</text>
<text font-size="5.7" text-anchor="middle" font-weight="normal" fill="#1a1a1a" transform="translate(282.50 460.60) scale(1 1.001)" stroke="#1a1a1a" stroke-width="0.26">PPP (µM)</text>
<text font-size="5.7" text-anchor="middle" font-weight="normal" fill="#1a1a1a" transform="translate(205.50 383.50) rotate(-90) scale(1 1.001)" stroke="#1a1a1a" stroke-width="0.26">Relative number of viable cells (%)</text>
<polyline points="231.10,349.74 243.85,349.74 256.60,352.02 269.35,347.00 282.10,348.83 294.85,353.39 307.60,370.75 320.35,372.58 333.10,369.84" fill="none" stroke="#0a0a0a" stroke-width="0.95" stroke-linejoin="round"/>
<polyline points="231.10,349.74 243.85,352.94 256.60,351.57 269.35,352.48 282.10,356.14 294.85,357.96 307.60,367.10 320.35,368.01 333.10,364.36" fill="none" stroke="#0a0a0a" stroke-width="0.95" stroke-linejoin="round"/>
<line x1="256.60" y1="356.14" x2="256.60" y2="346.09" stroke="#333" stroke-width="0.5"/>
<line x1="255.60" y1="356.14" x2="257.60" y2="356.14" stroke="#333" stroke-width="0.5"/>
<line x1="282.10" y1="361.62" x2="282.10" y2="348.83" stroke="#333" stroke-width="0.5"/>
<line x1="281.10" y1="361.62" x2="283.10" y2="361.62" stroke="#333" stroke-width="0.5"/>
<line x1="333.10" y1="374.41" x2="333.10" y2="364.36" stroke="#333" stroke-width="0.5"/>
<line x1="332.10" y1="374.41" x2="334.10" y2="374.41" stroke="#333" stroke-width="0.5"/>
<rect x="229.34" y="347.98" width="3.52" height="3.52" fill="#111" stroke="#111" stroke-width="0.6"/>
<rect x="242.09" y="351.18" width="3.52" height="3.52" fill="#111" stroke="#111" stroke-width="0.6"/>
<rect x="254.84" y="349.81" width="3.52" height="3.52" fill="#111" stroke="#111" stroke-width="0.6"/>
<rect x="267.59" y="350.72" width="3.52" height="3.52" fill="#111" stroke="#111" stroke-width="0.6"/>
<rect x="280.34" y="354.38" width="3.52" height="3.52" fill="#111" stroke="#111" stroke-width="0.6"/>
<rect x="293.09" y="356.20" width="3.52" height="3.52" fill="#111" stroke="#111" stroke-width="0.6"/>
<rect x="305.84" y="365.34" width="3.52" height="3.52" fill="#111" stroke="#111" stroke-width="0.6"/>
<rect x="318.59" y="366.25" width="3.52" height="3.52" fill="#111" stroke="#111" stroke-width="0.6"/>
<rect x="331.34" y="362.60" width="3.52" height="3.52" fill="#111" stroke="#111" stroke-width="0.6"/>
<rect x="229.34" y="347.98" width="3.52" height="3.52" fill="#fff" stroke="#222" stroke-width="0.7"/>
<rect x="242.09" y="347.98" width="3.52" height="3.52" fill="#fff" stroke="#222" stroke-width="0.7"/>
<rect x="254.84" y="350.26" width="3.52" height="3.52" fill="#fff" stroke="#222" stroke-width="0.7"/>
<rect x="267.59" y="345.24" width="3.52" height="3.52" fill="#fff" stroke="#222" stroke-width="0.7"/>
<rect x="280.34" y="347.07" width="3.52" height="3.52" fill="#fff" stroke="#222" stroke-width="0.7"/>
<rect x="293.09" y="351.63" width="3.52" height="3.52" fill="#fff" stroke="#222" stroke-width="0.7"/>
<rect x="305.84" y="368.99" width="3.52" height="3.52" fill="#fff" stroke="#222" stroke-width="0.7"/>
<rect x="318.59" y="370.82" width="3.52" height="3.52" fill="#fff" stroke="#222" stroke-width="0.7"/>
<rect x="331.34" y="368.08" width="3.52" height="3.52" fill="#fff" stroke="#222" stroke-width="0.7"/>
<line x1="348.50" y1="377.00" x2="371.50" y2="377.00" stroke="#444" stroke-width="0.8"/>
<rect x="358.24" y="375.24" width="3.52" height="3.52" fill="#fff" stroke="#222" stroke-width="0.7"/>
<text font-size="5.7" text-anchor="start" font-weight="normal" fill="#1a1a1a" transform="translate(377.50 378.70) scale(1 1.001)" stroke="#1a1a1a" stroke-width="0.26">BMSC</text>
<line x1="348.50" y1="391.10" x2="371.50" y2="391.10" stroke="#444" stroke-width="0.8"/>
<rect x="358.24" y="389.34" width="3.52" height="3.52" fill="#111" stroke="#111" stroke-width="0.6"/>
<text font-size="5.7" text-anchor="start" font-weight="normal" fill="#1a1a1a" transform="translate(377.50 392.80) scale(1 1.001)" stroke="#1a1a1a" stroke-width="0.26">SK1069</text></g></svg>
</div></body></html>
